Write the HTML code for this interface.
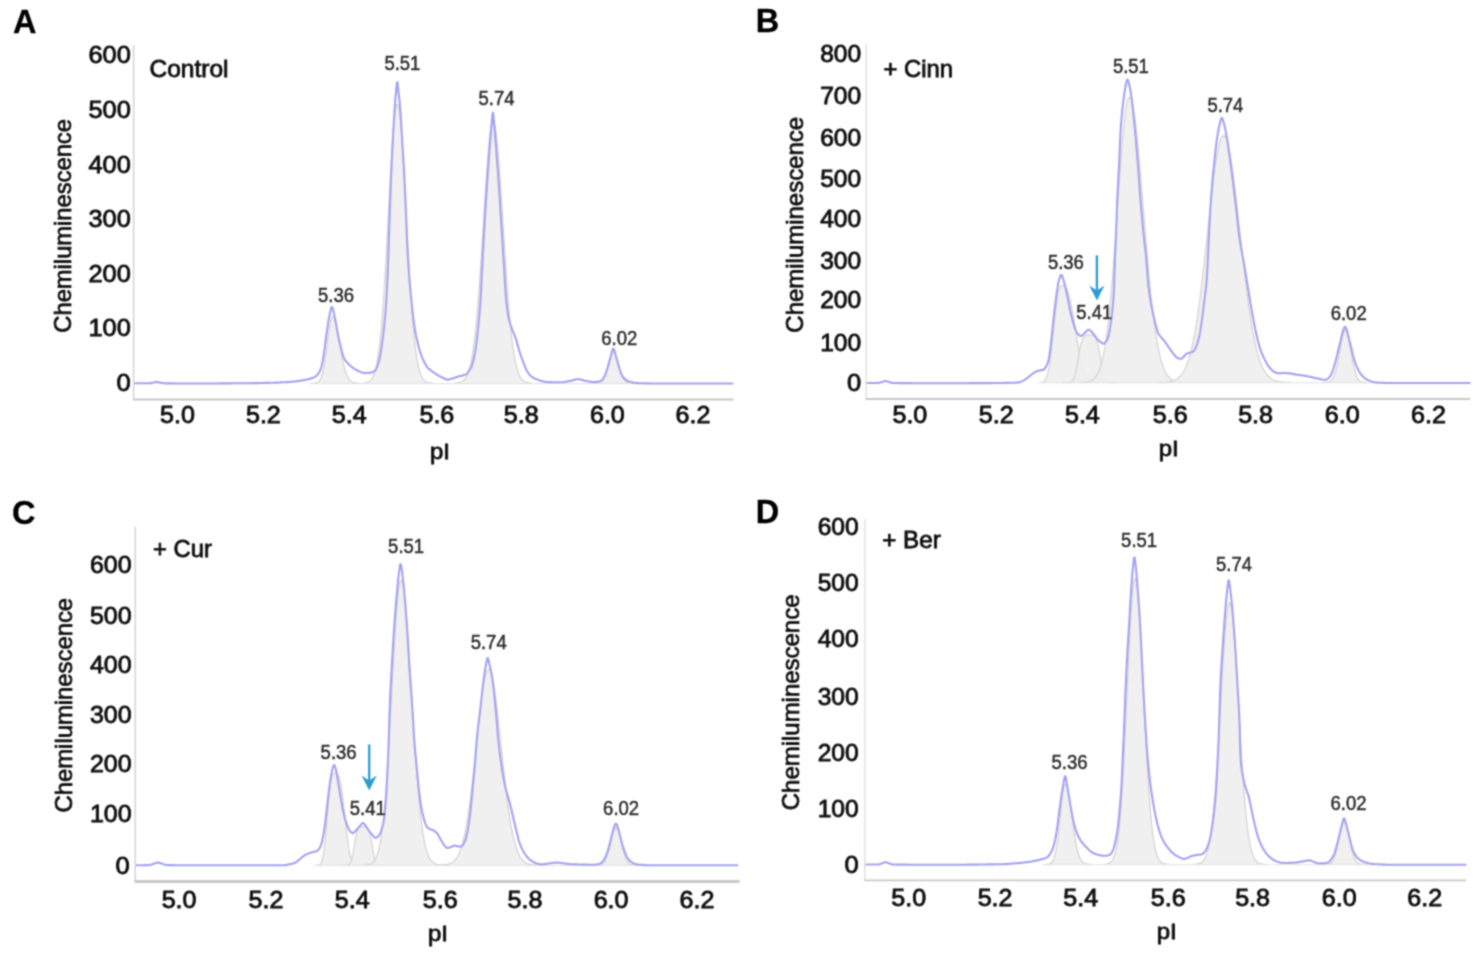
<!DOCTYPE html>
<html lang="en">
<head>
<meta charset="utf-8">
<title>Chemiluminescence pI profiles</title>
<style>
html,body{margin:0;padding:0;background:#fff;}
body{width:1475px;height:960px;overflow:hidden;font-family:"Liberation Sans",sans-serif;}
svg{display:block;}
</style>
</head>
<body>
<svg width="1475" height="960" viewBox="0 0 1475 960" font-family="'Liberation Sans', sans-serif" role="img" aria-label="Chemiluminescence versus pI for Control, Cinn, Cur and Ber">
<defs><filter id="soft" filterUnits="userSpaceOnUse" x="0" y="0" width="1475" height="960"><feConvolveMatrix order="3" kernelMatrix="0.05 0.12 0.05 0.12 0.32 0.12 0.05 0.12 0.05" edgeMode="duplicate"/></filter></defs>
<rect width="1475" height="960" fill="#ffffff"/>
<g filter="url(#soft)">
<g>
<path d="M311.8 383.3 L312.3 383.3 L312.8 383.3 L313.3 383.2 L313.8 383.2 L314.3 383.2 L314.8 383.1 L315.3 383 L315.8 382.9 L316.3 382.8 L316.8 382.6 L317.3 382.4 L317.8 382.1 L318.3 381.8 L318.8 381.3 L319.3 380.8 L319.8 380.1 L320.3 379.2 L320.8 378.2 L321.3 377 L321.8 375.6 L322.3 373.9 L322.8 372 L323.3 369.9 L323.8 367.4 L324.3 364.7 L324.8 361.7 L325.3 358.5 L325.8 355 L326.3 351.4 L326.8 347.6 L327.3 343.7 L327.8 339.9 L328.3 336.1 L328.8 332.4 L329.3 328.9 L329.8 325.8 L330.3 323 L330.8 320.7 L331.3 318.8 L331.8 317.6 L332.3 316.9 L332.8 316.8 L333.3 317.1 L333.8 317.8 L334.3 318.7 L334.8 320 L335.3 321.6 L335.8 323.4 L336.3 325.5 L336.8 327.8 L337.3 330.2 L337.8 332.8 L338.3 335.6 L338.8 338.4 L339.3 341.2 L339.8 344.1 L340.3 347 L340.8 349.8 L341.3 352.6 L341.8 355.3 L342.3 357.8 L342.8 360.3 L343.3 362.6 L343.8 364.8 L344.3 366.8 L344.8 368.7 L345.3 370.5 L345.8 372.1 L346.3 373.5 L346.8 374.8 L347.3 376 L347.8 377 L348.3 377.9 L348.8 378.7 L349.3 379.4 L349.8 380.1 L350.3 380.6 L350.8 381 L351.3 381.4 L351.8 381.8 L352.3 382 L352.8 382.3 L353.3 382.5 L353.8 382.6 L354.3 382.8 L354.8 382.9 L355.3 383 L355.8 383 L356.3 383.1 L356.8 383.1 L357.3 383.2 L357.8 383.2 L358.3 383.2 L358.8 383.2 L359.3 383.3 L359.8 383.3 L360.3 383.3 L360.8 383.3" fill="#efefef" fill-opacity="0.92" stroke="#cfcfcf" stroke-width="1.1"/>
<path d="M361.7 383.2 L362.2 383.2 L362.7 383.2 L363.2 383.1 L363.7 383.1 L364.2 383 L364.7 383 L365.2 382.9 L365.7 382.8 L366.2 382.7 L366.7 382.5 L367.2 382.4 L367.7 382.2 L368.2 382 L368.7 381.7 L369.2 381.4 L369.7 381 L370.2 380.6 L370.7 380.1 L371.2 379.5 L371.7 378.8 L372.2 378.1 L372.7 377.2 L373.2 376.2 L373.7 375 L374.2 373.7 L374.7 372.2 L375.2 370.5 L375.7 368.6 L376.2 366.5 L376.7 364.1 L377.2 361.5 L377.7 358.6 L378.2 355.4 L378.7 351.9 L379.2 348 L379.7 343.8 L380.2 339.2 L380.7 334.3 L381.2 329 L381.7 323.3 L382.2 317.1 L382.7 310.6 L383.2 303.8 L383.7 296.5 L384.2 288.9 L384.7 280.9 L385.2 272.6 L385.7 264 L386.2 255.1 L386.7 246 L387.2 236.8 L387.7 227.4 L388.2 217.9 L388.7 208.4 L389.2 198.9 L389.7 189.5 L390.2 180.3 L390.7 171.4 L391.2 162.7 L391.7 154.4 L392.2 146.5 L392.7 139.2 L393.2 132.4 L393.7 126.2 L394.2 120.7 L394.7 116 L395.2 112 L395.7 108.8 L396.2 106.4 L396.7 104.9 L397.2 104.3 L397.7 104.6 L398.2 105.7 L398.7 107.7 L399.2 110.6 L399.7 114.3 L400.2 118.7 L400.7 123.9 L401.2 129.8 L401.7 136.4 L402.2 143.5 L402.7 151.2 L403.2 159.3 L403.7 167.9 L404.2 176.7 L404.7 185.8 L405.2 195.1 L405.7 204.6 L406.2 214.1 L406.7 223.6 L407.2 233 L407.7 242.3 L408.2 251.5 L408.7 260.5 L409.2 269.2 L409.7 277.6 L410.2 285.7 L410.7 293.5 L411.2 300.9 L411.7 307.9 L412.2 314.6 L412.7 320.9 L413.2 326.7 L413.7 332.2 L414.2 337.3 L414.7 342 L415.2 346.4 L415.7 350.4 L416.2 354 L416.7 357.4 L417.2 360.4 L417.7 363.1 L418.2 365.6 L418.7 367.8 L419.2 369.8 L419.7 371.5 L420.2 373.1 L420.7 374.5 L421.2 375.7 L421.7 376.8 L422.2 377.7 L422.7 378.5 L423.2 379.3 L423.7 379.9 L424.2 380.4 L424.7 380.9 L425.2 381.3 L425.7 381.6 L426.2 381.9 L426.7 382.1 L427.2 382.3 L427.7 382.5 L428.2 382.6 L428.7 382.7 L429.2 382.8 L429.7 382.9 L430.2 383 L430.7 383.1 L431.2 383.1 L431.7 383.1 L432.2 383.2 L432.7 383.2 L433.2 383.2" fill="#efefef" fill-opacity="0.92" stroke="#cfcfcf" stroke-width="1.1"/>
<path d="M453.6 383.2 L454.1 383.2 L454.6 383.2 L455.1 383.1 L455.6 383.1 L456.1 383.1 L456.6 383 L457.1 383 L457.6 382.9 L458.1 382.8 L458.6 382.7 L459.1 382.6 L459.6 382.5 L460.1 382.3 L460.6 382.1 L461.1 381.9 L461.6 381.7 L462.1 381.4 L462.6 381.1 L463.1 380.7 L463.6 380.3 L464.1 379.8 L464.6 379.3 L465.1 378.6 L465.6 377.9 L466.1 377.1 L466.6 376.2 L467.1 375.2 L467.6 374 L468.1 372.8 L468.6 371.3 L469.1 369.8 L469.6 368 L470.1 366.1 L470.6 364 L471.1 361.6 L471.6 359.1 L472.1 356.3 L472.6 353.2 L473.1 349.9 L473.6 346.4 L474.1 342.6 L474.6 338.4 L475.1 334 L475.6 329.3 L476.1 324.4 L476.6 319.1 L477.1 313.5 L477.6 307.6 L478.1 301.4 L478.6 295 L479.1 288.3 L479.6 281.3 L480.1 274.1 L480.6 266.7 L481.1 259.2 L481.6 251.4 L482.1 243.6 L482.6 235.6 L483.1 227.6 L483.6 219.6 L484.1 211.6 L484.6 203.6 L485.1 195.8 L485.6 188.2 L486.1 180.7 L486.6 173.5 L487.1 166.6 L487.6 160 L488.1 153.9 L488.6 148.1 L489.1 142.8 L489.6 138.1 L490.1 133.8 L490.6 130.2 L491.1 127.1 L491.6 124.7 L492.1 122.9 L492.6 121.8 L493.1 121.3 L493.6 121.5 L494.1 122.4 L494.6 123.9 L495.1 126.1 L495.6 128.9 L496.1 132.3 L496.6 136.3 L497.1 140.9 L497.6 145.9 L498.1 151.5 L498.6 157.5 L499.1 163.9 L499.6 170.7 L500.1 177.8 L500.6 185.2 L501.1 192.7 L501.6 200.5 L502.1 208.4 L502.6 216.4 L503.1 224.4 L503.6 232.4 L504.1 240.4 L504.6 248.3 L505.1 256.1 L505.6 263.7 L506.1 271.2 L506.6 278.5 L507.1 285.5 L507.6 292.3 L508.1 298.9 L508.6 305.2 L509.1 311.2 L509.6 316.9 L510.1 322.3 L510.6 327.4 L511.1 332.2 L511.6 336.7 L512.1 340.9 L512.6 344.9 L513.1 348.6 L513.6 351.9 L514.1 355.1 L514.6 358 L515.1 360.6 L515.6 363 L516.1 365.3 L516.6 367.3 L517.1 369.1 L517.6 370.7 L518.1 372.2 L518.6 373.6 L519.1 374.7 L519.6 375.8 L520.1 376.8 L520.6 377.6 L521.1 378.4 L521.6 379 L522.1 379.6 L522.6 380.1 L523.1 380.6 L523.6 381 L524.1 381.3 L524.6 381.6 L525.1 381.8 L525.6 382.1 L526.1 382.3 L526.6 382.4 L527.1 382.6 L527.6 382.7 L528.1 382.8 L528.6 382.9 L529.1 382.9 L529.6 383 L530.1 383 L530.6 383.1 L531.1 383.1 L531.6 383.2 L532.1 383.2 L532.6 383.2 L533.1 383.2" fill="#efefef" fill-opacity="0.92" stroke="#cfcfcf" stroke-width="1.1"/>
<path d="M592.5 383.3 L593 383.3 L593.5 383.3 L594 383.3 L594.5 383.3 L595 383.2 L595.5 383.2 L596 383.2 L596.5 383.1 L597 383.1 L597.5 383 L598 382.9 L598.5 382.8 L599 382.6 L599.5 382.4 L600 382.1 L600.5 381.8 L601 381.4 L601.5 380.9 L602 380.4 L602.5 379.7 L603 378.9 L603.5 378.1 L604 377 L604.5 375.9 L605 374.6 L605.5 373.2 L606 371.7 L606.5 370.1 L607 368.4 L607.5 366.7 L608 364.9 L608.5 363.1 L609 361.3 L609.5 359.6 L610 358 L610.5 356.5 L611 355.2 L611.5 354.1 L612 353.3 L612.5 352.7 L613 352.4 L613.5 352.3 L614 352.6 L614.5 353.1 L615 353.9 L615.5 355 L616 356.2 L616.5 357.6 L617 359.2 L617.5 360.9 L618 362.7 L618.5 364.5 L619 366.3 L619.5 368.1 L620 369.8 L620.5 371.4 L621 372.9 L621.5 374.4 L622 375.7 L622.5 376.8 L623 377.9 L623.5 378.8 L624 379.6 L624.5 380.3 L625 380.8 L625.5 381.3 L626 381.7 L626.5 382.1 L627 382.3 L627.5 382.6 L628 382.7 L628.5 382.9 L629 383 L629.5 383.1 L630 383.1 L630.5 383.2 L631 383.2 L631.5 383.2 L632 383.3 L632.5 383.3 L633 383.3 L633.5 383.3 L634 383.3 L634.5 383.3" fill="#efefef" fill-opacity="0.92" stroke="#cfcfcf" stroke-width="1.1"/>
<line x1="308.8" y1="383.6" x2="637.5" y2="383.6" stroke="#e2e2e2" stroke-width="1"/>
<path d="M134.4 383.3 L134.9 383.3 L135.4 383.3 L135.9 383.3 L136.4 383.3 L136.9 383.3 L137.4 383.3 L137.9 383.3 L138.4 383.3 L138.9 383.3 L139.4 383.3 L139.9 383.3 L140.4 383.3 L140.9 383.3 L141.4 383.3 L141.9 383.3 L142.4 383.3 L142.9 383.3 L143.4 383.3 L143.9 383.3 L144.4 383.3 L144.9 383.3 L145.4 383.3 L145.9 383.3 L146.4 383.3 L146.9 383.3 L147.4 383.3 L147.9 383.3 L148.4 383.3 L148.9 383.3 L149.4 383.3 L149.9 383.3 L150.4 383.2 L150.9 383.1 L151.4 383 L151.9 382.9 L152.4 382.8 L152.9 382.7 L153.4 382.7 L153.9 382.5 L154.4 382.4 L154.9 382.3 L155.4 382.2 L155.9 382.1 L156.4 382.1 L156.9 382.1 L157.4 382.1 L157.9 382.2 L158.4 382.3 L158.9 382.4 L159.4 382.5 L159.9 382.6 L160.4 382.7 L160.9 382.8 L161.4 382.9 L161.9 383 L162.4 383.1 L162.9 383.2 L163.4 383.2 L163.9 383.3 L164.4 383.3 L164.9 383.3 L165.4 383.3 L165.9 383.4 L166.4 383.4 L166.9 383.4 L167.4 383.4 L167.9 383.4 L168.4 383.4 L168.9 383.4 L169.4 383.4 L169.9 383.4 L170.4 383.4 L170.9 383.4 L171.4 383.4 L171.9 383.4 L172.4 383.4 L172.9 383.4 L173.4 383.4 L173.9 383.4 L174.4 383.4 L174.9 383.5 L175.4 383.5 L175.9 383.5 L176.4 383.5 L176.9 383.5 L177.4 383.5 L177.9 383.5 L178.4 383.5 L178.9 383.5 L179.4 383.5 L179.9 383.5 L180.4 383.5 L180.9 383.5 L181.4 383.5 L181.9 383.5 L182.4 383.5 L182.9 383.5 L183.4 383.5 L183.9 383.5 L184.4 383.5 L184.9 383.5 L185.4 383.5 L185.9 383.5 L186.4 383.5 L186.9 383.5 L187.4 383.5 L187.9 383.5 L188.4 383.5 L188.9 383.5 L189.4 383.5 L189.9 383.5 L190.4 383.5 L190.9 383.5 L191.4 383.5 L191.9 383.5 L192.4 383.5 L192.9 383.5 L193.4 383.5 L193.9 383.5 L194.4 383.5 L194.9 383.5 L195.4 383.5 L195.9 383.5 L196.4 383.5 L196.9 383.5 L197.4 383.5 L197.9 383.5 L198.4 383.5 L198.9 383.5 L199.4 383.5 L199.9 383.5 L200.4 383.5 L200.9 383.5 L201.4 383.5 L201.9 383.5 L202.4 383.5 L202.9 383.5 L203.4 383.5 L203.9 383.5 L204.4 383.5 L204.9 383.5 L205.4 383.5 L205.9 383.5 L206.4 383.5 L206.9 383.5 L207.4 383.5 L207.9 383.5 L208.4 383.5 L208.9 383.5 L209.4 383.5 L209.9 383.5 L210.4 383.5 L210.9 383.5 L211.4 383.5 L211.9 383.5 L212.4 383.5 L212.9 383.5 L213.4 383.5 L213.9 383.5 L214.4 383.5 L214.9 383.5 L215.4 383.5 L215.9 383.5 L216.4 383.5 L216.9 383.5 L217.4 383.5 L217.9 383.5 L218.4 383.5 L218.9 383.5 L219.4 383.5 L219.9 383.4 L220.4 383.4 L220.9 383.4 L221.4 383.4 L221.9 383.4 L222.4 383.4 L222.9 383.4 L223.4 383.4 L223.9 383.4 L224.4 383.4 L224.9 383.4 L225.4 383.4 L225.9 383.4 L226.4 383.4 L226.9 383.4 L227.4 383.4 L227.9 383.4 L228.4 383.4 L228.9 383.4 L229.4 383.4 L229.9 383.4 L230.4 383.4 L230.9 383.4 L231.4 383.3 L231.9 383.3 L232.4 383.3 L232.9 383.3 L233.4 383.3 L233.9 383.3 L234.4 383.3 L234.9 383.3 L235.4 383.3 L235.9 383.3 L236.4 383.3 L236.9 383.3 L237.4 383.3 L237.9 383.3 L238.4 383.3 L238.9 383.3 L239.4 383.3 L239.9 383.3 L240.4 383.3 L240.9 383.3 L241.4 383.3 L241.9 383.2 L242.4 383.2 L242.9 383.2 L243.4 383.2 L243.9 383.2 L244.4 383.2 L244.9 383.2 L245.4 383.2 L245.9 383.2 L246.4 383.2 L246.9 383.2 L247.4 383.2 L247.9 383.2 L248.4 383.2 L248.9 383.2 L249.4 383.2 L249.9 383.2 L250.4 383.2 L250.9 383.1 L251.4 383.1 L251.9 383.1 L252.4 383.1 L252.9 383.1 L253.4 383.1 L253.9 383.1 L254.4 383.1 L254.9 383.1 L255.4 383.1 L255.9 383.1 L256.4 383.1 L256.9 383.1 L257.4 383.1 L257.9 383.1 L258.4 383 L258.9 383 L259.4 383 L259.9 383 L260.4 383 L260.9 383 L261.4 383 L261.9 383 L262.4 383 L262.9 383 L263.4 383 L263.9 382.9 L264.4 382.9 L264.9 382.9 L265.4 382.9 L265.9 382.9 L266.4 382.9 L266.9 382.9 L267.4 382.9 L267.9 382.9 L268.4 382.9 L268.9 382.8 L269.4 382.8 L269.9 382.8 L270.4 382.8 L270.9 382.8 L271.4 382.8 L271.9 382.8 L272.4 382.7 L272.9 382.7 L273.4 382.7 L273.9 382.7 L274.4 382.7 L274.9 382.7 L275.4 382.7 L275.9 382.6 L276.4 382.6 L276.9 382.6 L277.4 382.6 L277.9 382.6 L278.4 382.5 L278.9 382.5 L279.4 382.5 L279.9 382.5 L280.4 382.5 L280.9 382.4 L281.4 382.4 L281.9 382.4 L282.4 382.4 L282.9 382.3 L283.4 382.3 L283.9 382.3 L284.4 382.3 L284.9 382.2 L285.4 382.2 L285.9 382.2 L286.4 382.1 L286.9 382.1 L287.4 382.1 L287.9 382.1 L288.4 382 L288.9 382 L289.4 382 L289.9 381.9 L290.4 381.9 L290.9 381.9 L291.4 381.8 L291.9 381.8 L292.4 381.7 L292.9 381.7 L293.4 381.6 L293.9 381.6 L294.4 381.5 L294.9 381.5 L295.4 381.4 L295.9 381.3 L296.4 381.3 L296.9 381.2 L297.4 381.1 L297.9 381.1 L298.4 381 L298.9 380.9 L299.4 380.9 L299.9 380.8 L300.4 380.7 L300.9 380.6 L301.4 380.5 L301.9 380.5 L302.4 380.4 L302.9 380.3 L303.4 380.2 L303.9 380.1 L304.4 380 L304.9 379.9 L305.4 379.8 L305.9 379.7 L306.4 379.6 L306.9 379.5 L307.4 379.4 L307.9 379.3 L308.4 379.2 L308.9 379.1 L309.4 379 L309.9 378.8 L310.4 378.7 L310.9 378.5 L311.4 378.4 L311.9 378.2 L312.4 378 L312.9 377.9 L313.4 377.6 L313.9 377.4 L314.4 377.2 L314.9 376.9 L315.4 376.5 L315.9 376.1 L316.4 375.7 L316.9 375.2 L317.4 374.7 L317.9 374.1 L318.4 373.5 L318.9 372.8 L319.4 371.9 L319.9 370.9 L320.4 369.8 L320.9 368.5 L321.4 367 L321.9 365.1 L322.4 362.6 L322.9 359.8 L323.4 356.8 L323.9 353.6 L324.4 350.3 L324.9 346.5 L325.4 342.5 L325.9 338.6 L326.4 334.9 L326.9 331.4 L327.4 327.8 L327.9 324.4 L328.4 321.3 L328.9 318.5 L329.4 316 L329.9 313.4 L330.4 310.9 L330.9 308.9 L331.4 307.4 L331.9 306.9 L332.4 307.4 L332.9 308.9 L333.4 310.9 L333.9 313.3 L334.4 315.6 L334.9 317.9 L335.4 320.5 L335.9 323.4 L336.4 326.4 L336.9 329.3 L337.4 332 L337.9 334.5 L338.4 336.8 L338.9 339.2 L339.4 341.4 L339.9 343.5 L340.4 345.6 L340.9 347.6 L341.4 349.7 L341.9 351.7 L342.4 353.5 L342.9 355.2 L343.4 356.7 L343.9 357.8 L344.4 358.7 L344.9 359.6 L345.4 360.4 L345.9 361 L346.4 361.7 L346.9 362.3 L347.4 362.8 L347.9 363.4 L348.4 363.9 L348.9 364.4 L349.4 364.9 L349.9 365.4 L350.4 365.8 L350.9 366.3 L351.4 366.7 L351.9 367.1 L352.4 367.4 L352.9 367.8 L353.4 368.1 L353.9 368.5 L354.4 368.8 L354.9 369.1 L355.4 369.5 L355.9 369.7 L356.4 370 L356.9 370.3 L357.4 370.5 L357.9 370.8 L358.4 371 L358.9 371.2 L359.4 371.4 L359.9 371.6 L360.4 371.8 L360.9 372 L361.4 372.2 L361.9 372.4 L362.4 372.6 L362.9 372.7 L363.4 372.8 L363.9 372.9 L364.4 373 L364.9 373 L365.4 373 L365.9 373 L366.4 373 L366.9 373 L367.4 372.9 L367.9 372.9 L368.4 372.9 L368.9 372.8 L369.4 372.8 L369.9 372.7 L370.4 372.7 L370.9 372.6 L371.4 372.5 L371.9 372.4 L372.4 372.2 L372.9 372 L373.4 371.7 L373.9 371.4 L374.4 371.1 L374.9 370.7 L375.4 370.2 L375.9 369.5 L376.4 368.5 L376.9 367.4 L377.4 366.2 L377.9 364.9 L378.4 363.3 L378.9 361.4 L379.4 359.3 L379.9 357 L380.4 354.5 L380.9 351.7 L381.4 348.4 L381.9 344.9 L382.4 341.1 L382.9 337.2 L383.4 333 L383.9 328.6 L384.4 323.8 L384.9 318.6 L385.4 313 L385.9 306.8 L386.4 299.4 L386.9 290.2 L387.4 279.6 L387.9 267.8 L388.4 254.7 L388.9 240 L389.4 224.2 L389.9 208.8 L390.4 194.5 L390.9 181.2 L391.4 169.4 L391.9 158.6 L392.4 148.5 L392.9 139 L393.4 129.8 L393.9 121 L394.4 112.8 L394.9 105.4 L395.4 98.9 L395.9 93.1 L396.4 87.9 L396.9 82.7 L397.4 82 L397.9 86.1 L398.4 90.9 L398.9 95.2 L399.4 100 L399.9 105.4 L400.4 111.9 L400.9 119.5 L401.4 127.6 L401.9 136 L402.4 144.1 L402.9 152.1 L403.4 160.3 L403.9 168.9 L404.4 178.2 L404.9 188.7 L405.4 199.9 L405.9 211.7 L406.4 224.8 L406.9 237.8 L407.4 248.2 L407.9 257.4 L408.4 265.4 L408.9 272.5 L409.4 279 L409.9 285 L410.4 290.7 L410.9 295.9 L411.4 300.9 L411.9 305.7 L412.4 310.3 L412.9 314.6 L413.4 318.8 L413.9 322.7 L414.4 326.2 L414.9 329.4 L415.4 332.3 L415.9 334.9 L416.4 337.2 L416.9 339.5 L417.4 341.6 L417.9 343.6 L418.4 345.6 L418.9 347.5 L419.4 349.3 L419.9 351.1 L420.4 352.7 L420.9 354.2 L421.4 355.6 L421.9 356.9 L422.4 358.1 L422.9 359.2 L423.4 360.3 L423.9 361.3 L424.4 362.3 L424.9 363.3 L425.4 364.2 L425.9 365.1 L426.4 366 L426.9 366.7 L427.4 367.4 L427.9 367.9 L428.4 368.4 L428.9 368.9 L429.4 369.3 L429.9 369.7 L430.4 370.1 L430.9 370.5 L431.4 370.8 L431.9 371.2 L432.4 371.6 L432.9 371.9 L433.4 372.3 L433.9 372.6 L434.4 373 L434.9 373.3 L435.4 373.7 L435.9 374 L436.4 374.3 L436.9 374.6 L437.4 374.9 L437.9 375.2 L438.4 375.5 L438.9 375.8 L439.4 376.1 L439.9 376.3 L440.4 376.6 L440.9 376.8 L441.4 377.1 L441.9 377.3 L442.4 377.5 L442.9 377.8 L443.4 378 L443.9 378.2 L444.4 378.5 L444.9 378.8 L445.4 379 L445.9 379.2 L446.4 379.4 L446.9 379.5 L447.4 379.6 L447.9 379.6 L448.4 379.6 L448.9 379.5 L449.4 379.4 L449.9 379.2 L450.4 379.1 L450.9 378.9 L451.4 378.8 L451.9 378.6 L452.4 378.5 L452.9 378.3 L453.4 378.2 L453.9 378 L454.4 377.8 L454.9 377.7 L455.4 377.5 L455.9 377.3 L456.4 377.1 L456.9 377 L457.4 376.8 L457.9 376.6 L458.4 376.5 L458.9 376.4 L459.4 376.2 L459.9 376.1 L460.4 376 L460.9 375.9 L461.4 375.8 L461.9 375.7 L462.4 375.6 L462.9 375.4 L463.4 375.3 L463.9 375.1 L464.4 375 L464.9 374.8 L465.4 374.6 L465.9 374.4 L466.4 374.1 L466.9 373.7 L467.4 373 L467.9 372.3 L468.4 371.6 L468.9 370.9 L469.4 370.2 L469.9 369.5 L470.4 368.7 L470.9 367.8 L471.4 366.8 L471.9 365.7 L472.4 364.2 L472.9 362.5 L473.4 360.5 L473.9 358.3 L474.4 356 L474.9 353.5 L475.4 350.6 L475.9 347.3 L476.4 343.6 L476.9 339.6 L477.4 335.4 L477.9 330.6 L478.4 325.3 L478.9 319.7 L479.4 314.3 L479.9 308.7 L480.4 302.3 L480.9 294.2 L481.4 284.1 L481.9 273.4 L482.4 263.5 L482.9 254.3 L483.4 245.4 L483.9 236.4 L484.4 227.4 L484.9 218.5 L485.4 210.1 L485.9 202 L486.4 194.2 L486.9 186.6 L487.4 179.2 L487.9 172 L488.4 164.9 L488.9 158 L489.4 151.2 L489.9 144.7 L490.4 138.4 L490.9 132.2 L491.4 126.3 L491.9 121 L492.4 115.5 L492.9 112.5 L493.4 115.5 L493.9 121 L494.4 126.6 L494.9 133 L495.4 139.6 L495.9 146 L496.4 152.3 L496.9 158.8 L497.4 165.3 L497.9 172.1 L498.4 179.2 L498.9 186.6 L499.4 194.4 L499.9 202.3 L500.4 210.1 L500.9 217.9 L501.4 225.8 L501.9 233.7 L502.4 241.6 L502.9 249.5 L503.4 257.5 L503.9 265.4 L504.4 273.7 L504.9 282.4 L505.4 290.6 L505.9 297.6 L506.4 302.8 L506.9 307 L507.4 310.7 L507.9 313.9 L508.4 316.7 L508.9 319 L509.4 321.1 L509.9 322.9 L510.4 324.5 L510.9 325.9 L511.4 327.3 L511.9 328.7 L512.4 330.1 L512.9 331.3 L513.4 332.4 L513.9 333.6 L514.4 334.7 L514.9 336 L515.4 337.5 L515.9 339 L516.4 340.6 L516.9 342.4 L517.4 344.1 L517.9 345.9 L518.4 347.7 L518.9 349.5 L519.4 351.2 L519.9 352.8 L520.4 354.3 L520.9 355.8 L521.4 357.2 L521.9 358.6 L522.4 359.9 L522.9 361.2 L523.4 362.5 L523.9 363.8 L524.4 365 L524.9 366.2 L525.4 367.5 L525.9 368.7 L526.4 369.8 L526.9 370.8 L527.4 371.7 L527.9 372.5 L528.4 373.2 L528.9 373.9 L529.4 374.6 L529.9 375.2 L530.4 375.7 L530.9 376.1 L531.4 376.5 L531.9 376.8 L532.4 377.2 L532.9 377.5 L533.4 377.8 L533.9 378.1 L534.4 378.3 L534.9 378.6 L535.4 378.8 L535.9 379 L536.4 379.2 L536.9 379.4 L537.4 379.6 L537.9 379.8 L538.4 380 L538.9 380.1 L539.4 380.3 L539.9 380.5 L540.4 380.6 L540.9 380.8 L541.4 381 L541.9 381.1 L542.4 381.3 L542.9 381.4 L543.4 381.5 L543.9 381.6 L544.4 381.7 L544.9 381.8 L545.4 381.9 L545.9 381.9 L546.4 381.9 L546.9 382 L547.4 382 L547.9 382 L548.4 382 L548.9 382.1 L549.4 382.1 L549.9 382.1 L550.4 382.1 L550.9 382.2 L551.4 382.2 L551.9 382.2 L552.4 382.2 L552.9 382.2 L553.4 382.2 L553.9 382.2 L554.4 382.3 L554.9 382.3 L555.4 382.3 L555.9 382.3 L556.4 382.3 L556.9 382.3 L557.4 382.3 L557.9 382.3 L558.4 382.3 L558.9 382.3 L559.4 382.3 L559.9 382.3 L560.4 382.3 L560.9 382.3 L561.4 382.3 L561.9 382.2 L562.4 382.2 L562.9 382.2 L563.4 382.1 L563.9 382 L564.4 382 L564.9 381.9 L565.4 381.8 L565.9 381.7 L566.4 381.6 L566.9 381.5 L567.4 381.4 L567.9 381.4 L568.4 381.3 L568.9 381.2 L569.4 381.1 L569.9 381 L570.4 380.9 L570.9 380.8 L571.4 380.7 L571.9 380.5 L572.4 380.4 L572.9 380.3 L573.4 380.1 L573.9 380 L574.4 379.8 L574.9 379.7 L575.4 379.6 L575.9 379.5 L576.4 379.4 L576.9 379.3 L577.4 379.2 L577.9 379.2 L578.4 379.2 L578.9 379.2 L579.4 379.3 L579.9 379.4 L580.4 379.5 L580.9 379.6 L581.4 379.7 L581.9 379.9 L582.4 380 L582.9 380.2 L583.4 380.3 L583.9 380.5 L584.4 380.6 L584.9 380.7 L585.4 380.9 L585.9 381 L586.4 381 L586.9 381.1 L587.4 381.2 L587.9 381.3 L588.4 381.4 L588.9 381.5 L589.4 381.6 L589.9 381.7 L590.4 381.7 L590.9 381.8 L591.4 381.9 L591.9 381.9 L592.4 382 L592.9 382 L593.4 382 L593.9 382.1 L594.4 382.1 L594.9 382 L595.4 382 L595.9 382 L596.4 381.9 L596.9 381.9 L597.4 381.8 L597.9 381.7 L598.4 381.6 L598.9 381.5 L599.4 381.4 L599.9 381.3 L600.4 381.2 L600.9 381 L601.4 380.8 L601.9 380.4 L602.4 379.8 L602.9 379.2 L603.4 378.4 L603.9 377.6 L604.4 376.7 L604.9 375.7 L605.4 374.5 L605.9 373.1 L606.4 371.5 L606.9 369.9 L607.4 368.3 L607.9 366.7 L608.4 365 L608.9 363.2 L609.4 361.4 L609.9 359.6 L610.4 357.8 L610.9 356 L611.4 354 L611.9 351.9 L612.4 350.1 L612.9 348.9 L613.4 348.6 L613.9 349.2 L614.4 350.5 L614.9 352.2 L615.4 354.2 L615.9 356.1 L616.4 357.8 L616.9 359.5 L617.4 361.3 L617.9 363.2 L618.4 365 L618.9 366.7 L619.4 368.3 L619.9 369.8 L620.4 371.4 L620.9 372.8 L621.4 374.2 L621.9 375.3 L622.4 376.2 L622.9 376.9 L623.4 377.5 L623.9 378.1 L624.4 378.6 L624.9 379.1 L625.4 379.5 L625.9 379.8 L626.4 380.1 L626.9 380.4 L627.4 380.7 L627.9 381 L628.4 381.2 L628.9 381.4 L629.4 381.6 L629.9 381.8 L630.4 381.9 L630.9 382 L631.4 382.1 L631.9 382.3 L632.4 382.4 L632.9 382.5 L633.4 382.6 L633.9 382.7 L634.4 382.7 L634.9 382.8 L635.4 382.9 L635.9 383 L636.4 383 L636.9 383.1 L637.4 383.1 L637.9 383.1 L638.4 383.1 L638.9 383.2 L639.4 383.2 L639.9 383.2 L640.4 383.2 L640.9 383.2 L641.4 383.2 L641.9 383.3 L642.4 383.3 L642.9 383.3 L643.4 383.3 L643.9 383.3 L644.4 383.3 L644.9 383.3 L645.4 383.4 L645.9 383.4 L646.4 383.4 L646.9 383.4 L647.4 383.4 L647.9 383.4 L648.4 383.4 L648.9 383.4 L649.4 383.4 L649.9 383.5 L650.4 383.5 L650.9 383.5 L651.4 383.5 L651.9 383.5 L652.4 383.5 L652.9 383.5 L653.4 383.5 L653.9 383.5 L654.4 383.5 L654.9 383.5 L655.4 383.5 L655.9 383.5 L656.4 383.5 L656.9 383.5 L657.4 383.5 L657.9 383.5 L658.4 383.5 L658.9 383.5 L659.4 383.5 L659.9 383.5 L660.4 383.5 L660.9 383.5 L661.4 383.5 L661.9 383.5 L662.4 383.5 L662.9 383.5 L663.4 383.5 L663.9 383.5 L664.4 383.5 L664.9 383.5 L665.4 383.5 L665.9 383.5 L666.4 383.5 L666.9 383.5 L667.4 383.5 L667.9 383.5 L668.4 383.5 L668.9 383.5 L669.4 383.5 L669.9 383.5 L670.4 383.5 L670.9 383.5 L671.4 383.5 L671.9 383.5 L672.4 383.5 L672.9 383.5 L673.4 383.5 L673.9 383.5 L674.4 383.5 L674.9 383.5 L675.4 383.5 L675.9 383.5 L676.4 383.5 L676.9 383.5 L677.4 383.5 L677.9 383.5 L678.4 383.5 L678.9 383.5 L679.4 383.5 L679.9 383.5 L680.4 383.5 L680.9 383.5 L681.4 383.5 L681.9 383.5 L682.4 383.5 L682.9 383.5 L683.4 383.5 L683.9 383.5 L684.4 383.5 L684.9 383.5 L685.4 383.5 L685.9 383.5 L686.4 383.5 L686.9 383.5 L687.4 383.5 L687.9 383.5 L688.4 383.5 L688.9 383.5 L689.4 383.5 L689.9 383.5 L690.4 383.5 L690.9 383.5 L691.4 383.5 L691.9 383.5 L692.4 383.5 L692.9 383.5 L693.4 383.5 L693.9 383.5 L694.4 383.5 L694.9 383.5 L695.4 383.5 L695.9 383.5 L696.4 383.5 L696.9 383.5 L697.4 383.5 L697.9 383.5 L698.4 383.5 L698.9 383.5 L699.4 383.5 L699.9 383.5 L700.4 383.5 L700.9 383.5 L701.4 383.5 L701.9 383.5 L702.4 383.5 L702.9 383.5 L703.4 383.5 L703.9 383.5 L704.4 383.5 L704.9 383.5 L705.4 383.5 L705.9 383.5 L706.4 383.5 L706.9 383.5 L707.4 383.5 L707.9 383.5 L708.4 383.5 L708.9 383.5 L709.4 383.5 L709.9 383.5 L710.4 383.5 L710.9 383.5 L711.4 383.5 L711.9 383.5 L712.4 383.5 L712.9 383.5 L713.4 383.5 L713.9 383.5 L714.4 383.5 L714.9 383.5 L715.4 383.5 L715.9 383.5 L716.4 383.5 L716.9 383.5 L717.4 383.5 L717.9 383.5 L718.4 383.5 L718.9 383.5 L719.4 383.5 L719.9 383.5 L720.4 383.5 L720.9 383.5 L721.4 383.5 L721.9 383.5 L722.4 383.5 L722.9 383.5 L723.4 383.5 L723.9 383.5 L724.4 383.5 L724.9 383.5 L725.4 383.5 L725.9 383.5 L726.4 383.5 L726.9 383.5 L727.4 383.5 L727.9 383.5 L728.4 383.5 L728.9 383.5 L729.4 383.5 L729.9 383.5 L730.4 383.5 L730.9 383.5 L731.4 383.5 L731.9 383.5 L732.4 383.5" fill="none" stroke="#a3a3f2" stroke-width="2.1" stroke-linejoin="round" stroke-linecap="round"/>
<line x1="133.6" y1="45" x2="133.6" y2="399.5" stroke="#d4d4d4" stroke-width="1.5"/>
<line x1="132.9" y1="399.5" x2="733.4" y2="399.5" stroke="#c8c8c8" stroke-width="2.2"/>
<text x="130.8" y="391" font-size="23.2" fill="#0c0c0c" stroke="#0c0c0c" stroke-width="0.8" text-anchor="end" textLength="14.2" lengthAdjust="spacingAndGlyphs">0</text>
<text x="130.8" y="336.4" font-size="23.2" fill="#0c0c0c" stroke="#0c0c0c" stroke-width="0.8" text-anchor="end" textLength="42.3" lengthAdjust="spacingAndGlyphs">100</text>
<text x="130.8" y="281.8" font-size="23.2" fill="#0c0c0c" stroke="#0c0c0c" stroke-width="0.8" text-anchor="end" textLength="42.3" lengthAdjust="spacingAndGlyphs">200</text>
<text x="130.8" y="227.2" font-size="23.2" fill="#0c0c0c" stroke="#0c0c0c" stroke-width="0.8" text-anchor="end" textLength="42.3" lengthAdjust="spacingAndGlyphs">300</text>
<text x="130.8" y="172.6" font-size="23.2" fill="#0c0c0c" stroke="#0c0c0c" stroke-width="0.8" text-anchor="end" textLength="42.3" lengthAdjust="spacingAndGlyphs">400</text>
<text x="130.8" y="117.9" font-size="23.2" fill="#0c0c0c" stroke="#0c0c0c" stroke-width="0.8" text-anchor="end" textLength="42.3" lengthAdjust="spacingAndGlyphs">500</text>
<text x="130.8" y="63.3" font-size="23.2" fill="#0c0c0c" stroke="#0c0c0c" stroke-width="0.8" text-anchor="end" textLength="42.3" lengthAdjust="spacingAndGlyphs">600</text>
<text x="177.5" y="423" font-size="23" fill="#0c0c0c" stroke="#0c0c0c" stroke-width="0.8" text-anchor="middle" textLength="34.9" lengthAdjust="spacingAndGlyphs">5.0</text>
<text x="263.4" y="423" font-size="23" fill="#0c0c0c" stroke="#0c0c0c" stroke-width="0.8" text-anchor="middle" textLength="34.9" lengthAdjust="spacingAndGlyphs">5.2</text>
<text x="349.3" y="423" font-size="23" fill="#0c0c0c" stroke="#0c0c0c" stroke-width="0.8" text-anchor="middle" textLength="34.9" lengthAdjust="spacingAndGlyphs">5.4</text>
<text x="436.9" y="423" font-size="23" fill="#0c0c0c" stroke="#0c0c0c" stroke-width="0.8" text-anchor="middle" textLength="34.9" lengthAdjust="spacingAndGlyphs">5.6</text>
<text x="521.2" y="423" font-size="23" fill="#0c0c0c" stroke="#0c0c0c" stroke-width="0.8" text-anchor="middle" textLength="34.9" lengthAdjust="spacingAndGlyphs">5.8</text>
<text x="607.4" y="423" font-size="23" fill="#0c0c0c" stroke="#0c0c0c" stroke-width="0.8" text-anchor="middle" textLength="34.9" lengthAdjust="spacingAndGlyphs">6.0</text>
<text x="693" y="423" font-size="23" fill="#0c0c0c" stroke="#0c0c0c" stroke-width="0.8" text-anchor="middle" textLength="34.9" lengthAdjust="spacingAndGlyphs">6.2</text>
<text x="430" y="458.7" font-size="22.9" fill="#0c0c0c" stroke="#0c0c0c" stroke-width="0.8" textLength="20" lengthAdjust="spacingAndGlyphs">pI</text>
<text transform="translate(71 225.9) rotate(-90) scale(1 1.03)" font-size="23.6" fill="#0c0c0c" stroke="#0c0c0c" stroke-width="0.7" text-anchor="middle" textLength="213.6" lengthAdjust="spacingAndGlyphs">Chemiluminescence</text>
<text x="13.1" y="33.1" font-size="32.5" fill="#000" stroke="#000" stroke-width="0.3" font-weight="bold">A</text>
<text x="149.5" y="77.3" font-size="23.6" fill="#0c0c0c" stroke="#0c0c0c" stroke-width="0.8" textLength="79" lengthAdjust="spacingAndGlyphs">Control</text>
<text x="384.4" y="69.6" font-size="19.4" fill="#303030" stroke="#303030" stroke-width="0.5" textLength="36" lengthAdjust="spacingAndGlyphs">5.51</text>
<text x="478.5" y="104.8" font-size="19.4" fill="#303030" stroke="#303030" stroke-width="0.5" textLength="36" lengthAdjust="spacingAndGlyphs">5.74</text>
<text x="318" y="302" font-size="19.4" fill="#303030" stroke="#303030" stroke-width="0.5" textLength="36" lengthAdjust="spacingAndGlyphs">5.36</text>
<text x="601.3" y="344.7" font-size="19.4" fill="#303030" stroke="#303030" stroke-width="0.5" textLength="36" lengthAdjust="spacingAndGlyphs">6.02</text>
</g>
<g>
<path d="M1041.5 382.3 L1042 382.2 L1042.5 382 L1043 381.8 L1043.5 381.5 L1044 381.2 L1044.5 380.7 L1045 380.1 L1045.5 379.4 L1046 378.5 L1046.5 377.3 L1047 376 L1047.5 374.3 L1048 372.4 L1048.5 370.2 L1049 367.6 L1049.5 364.7 L1050 361.5 L1050.5 357.9 L1051 354.1 L1051.5 349.9 L1052 345.5 L1052.5 340.9 L1053 336.2 L1053.5 331.4 L1054 326.5 L1054.5 321.8 L1055 317.1 L1055.5 312.6 L1056 308.4 L1056.5 304.4 L1057 300.8 L1057.5 297.5 L1058 294.7 L1058.5 292.3 L1059 290.2 L1059.5 288.6 L1060 287.4 L1060.5 286.5 L1061 285.9 L1061.5 285.6 L1062 285.5 L1062.5 285.5 L1063 285.5 L1063.5 285.6 L1064 285.8 L1064.5 286.1 L1065 286.5 L1065.5 287 L1066 287.7 L1066.5 288.5 L1067 289.5 L1067.5 290.6 L1068 292 L1068.5 293.5 L1069 295.2 L1069.5 297.1 L1070 299.1 L1070.5 301.3 L1071 303.7 L1071.5 306.2 L1072 308.9 L1072.5 311.6 L1073 314.5 L1073.5 317.5 L1074 320.6 L1074.5 323.7 L1075 326.8 L1075.5 330 L1076 333.2 L1076.5 336.3 L1077 339.4 L1077.5 342.5 L1078 345.5 L1078.5 348.4 L1079 351.2 L1079.5 353.9 L1080 356.5 L1080.5 358.9 L1081 361.2 L1081.5 363.4 L1082 365.4 L1082.5 367.3 L1083 369.1 L1083.5 370.7 L1084 372.1 L1084.5 373.4 L1085 374.6 L1085.5 375.7 L1086 376.7 L1086.5 377.5 L1087 378.3 L1087.5 378.9 L1088 379.5 L1088.5 380 L1089 380.4 L1089.5 380.8 L1090 381.1 L1090.5 381.3 L1091 381.5 L1091.5 381.7 L1092 381.9 L1092.5 382 L1093 382.1 L1093.5 382.2 L1094 382.3 L1094.5 382.3" fill="#efefef" fill-opacity="0.92" stroke="#cfcfcf" stroke-width="1.1"/>
<path d="M1062.6 382.5 L1063.1 382.5 L1063.6 382.5 L1064.1 382.5 L1064.6 382.5 L1065.1 382.5 L1065.6 382.5 L1066.1 382.5 L1066.6 382.5 L1067.1 382.5 L1067.6 382.5 L1068.1 382.5 L1068.6 382.5 L1069.1 382.5 L1069.6 382.4 L1070.1 382.4 L1070.6 382.3 L1071.1 382.2 L1071.6 381.9 L1072.1 381.6 L1072.6 381.1 L1073.1 380.4 L1073.6 379.5 L1074.1 378.3 L1074.6 376.8 L1075.1 375 L1075.6 372.9 L1076.1 370.6 L1076.6 368 L1077.1 365.2 L1077.6 362.3 L1078.1 359.4 L1078.6 356.4 L1079.1 353.6 L1079.6 350.9 L1080.1 348.3 L1080.6 346 L1081.1 344 L1081.6 342.1 L1082.1 340.6 L1082.6 339.3 L1083.1 338.2 L1083.6 337.3 L1084.1 336.6 L1084.6 336.1 L1085.1 335.7 L1085.6 335.4 L1086.1 335.2 L1086.6 335.1 L1087.1 335.1 L1087.6 335 L1088.1 335 L1088.6 335 L1089.1 335 L1089.6 335 L1090.1 335 L1090.6 335 L1091.1 335 L1091.6 335.1 L1092.1 335.1 L1092.6 335.2 L1093.1 335.4 L1093.6 335.7 L1094.1 336 L1094.6 336.5 L1095.1 337.2 L1095.6 338.1 L1096.1 339.1 L1096.6 340.4 L1097.1 341.9 L1097.6 343.7 L1098.1 345.8 L1098.6 348 L1099.1 350.5 L1099.6 353.2 L1100.1 356.1 L1100.6 359 L1101.1 362 L1101.6 364.9 L1102.1 367.7 L1102.6 370.3 L1103.1 372.7 L1103.6 374.8 L1104.1 376.6 L1104.6 378.1 L1105.1 379.3 L1105.6 380.3 L1106.1 381 L1106.6 381.5 L1107.1 381.9 L1107.6 382.1 L1108.1 382.3 L1108.6 382.4 L1109.1 382.4 L1109.6 382.5 L1110.1 382.5 L1110.6 382.5 L1111.1 382.5 L1111.6 382.5 L1112.1 382.5 L1112.6 382.5 L1113.1 382.5 L1113.6 382.5 L1114.1 382.5 L1114.6 382.5 L1115.1 382.5 L1115.6 382.5 L1116.1 382.5 L1116.6 382.5" fill="#efefef" fill-opacity="0.92" stroke="#cfcfcf" stroke-width="1.1"/>
<path d="M1081.4 382.4 L1081.9 382.4 L1082.4 382.4 L1082.9 382.3 L1083.4 382.3 L1083.9 382.3 L1084.4 382.2 L1084.9 382.2 L1085.4 382.2 L1085.9 382.1 L1086.4 382 L1086.9 382 L1087.4 381.9 L1087.9 381.8 L1088.4 381.7 L1088.9 381.5 L1089.4 381.4 L1089.9 381.2 L1090.4 381 L1090.9 380.8 L1091.4 380.6 L1091.9 380.3 L1092.4 380 L1092.9 379.7 L1093.4 379.3 L1093.9 378.9 L1094.4 378.4 L1094.9 377.9 L1095.4 377.3 L1095.9 376.7 L1096.4 376 L1096.9 375.2 L1097.4 374.3 L1097.9 373.4 L1098.4 372.4 L1098.9 371.2 L1099.4 370 L1099.9 368.6 L1100.4 367.1 L1100.9 365.5 L1101.4 363.7 L1101.9 361.8 L1102.4 359.8 L1102.9 357.6 L1103.4 355.2 L1103.9 352.6 L1104.4 349.9 L1104.9 347 L1105.4 343.9 L1105.9 340.5 L1106.4 337 L1106.9 333.3 L1107.4 329.3 L1107.9 325.1 L1108.4 320.8 L1108.9 316.1 L1109.4 311.3 L1109.9 306.3 L1110.4 301 L1110.9 295.5 L1111.4 289.8 L1111.9 283.9 L1112.4 277.8 L1112.9 271.6 L1113.4 265.1 L1113.9 258.5 L1114.4 251.8 L1114.9 244.9 L1115.4 237.9 L1115.9 230.9 L1116.4 223.7 L1116.9 216.5 L1117.4 209.3 L1117.9 202.1 L1118.4 194.9 L1118.9 187.8 L1119.4 180.8 L1119.9 173.8 L1120.4 167 L1120.9 160.3 L1121.4 153.9 L1121.9 147.7 L1122.4 141.7 L1122.9 136 L1123.4 130.5 L1123.9 125.5 L1124.4 120.7 L1124.9 116.4 L1125.4 112.4 L1125.9 108.9 L1126.4 105.8 L1126.9 103.1 L1127.4 100.9 L1127.9 99.2 L1128.4 98 L1128.9 97.2 L1129.4 97 L1129.9 97.2 L1130.4 97.7 L1130.9 98.6 L1131.4 99.9 L1131.9 101.5 L1132.4 103.5 L1132.9 105.8 L1133.4 108.4 L1133.9 111.4 L1134.4 114.6 L1134.9 118.2 L1135.4 122.1 L1135.9 126.2 L1136.4 130.5 L1136.9 135.2 L1137.4 140 L1137.9 145.1 L1138.4 150.3 L1138.9 155.7 L1139.4 161.3 L1139.9 167 L1140.4 172.8 L1140.9 178.8 L1141.4 184.8 L1141.9 190.9 L1142.4 197 L1142.9 203.2 L1143.4 209.3 L1143.9 215.5 L1144.4 221.7 L1144.9 227.8 L1145.4 233.9 L1145.9 239.9 L1146.4 245.9 L1146.9 251.8 L1147.4 257.6 L1147.9 263.3 L1148.4 268.8 L1148.9 274.3 L1149.4 279.6 L1149.9 284.8 L1150.4 289.8 L1150.9 294.7 L1151.4 299.4 L1151.9 304 L1152.4 308.4 L1152.9 312.7 L1153.4 316.8 L1153.9 320.8 L1154.4 324.5 L1154.9 328.2 L1155.4 331.6 L1155.9 334.9 L1156.4 338 L1156.9 341 L1157.4 343.9 L1157.9 346.5 L1158.4 349.1 L1158.9 351.5 L1159.4 353.8 L1159.9 355.9 L1160.4 357.9 L1160.9 359.8 L1161.4 361.6 L1161.9 363.2 L1162.4 364.8 L1162.9 366.2 L1163.4 367.5 L1163.9 368.8 L1164.4 370 L1164.9 371 L1165.4 372 L1165.9 373 L1166.4 373.8 L1166.9 374.6 L1167.4 375.3 L1167.9 376 L1168.4 376.6 L1168.9 377.2 L1169.4 377.7 L1169.9 378.2 L1170.4 378.6 L1170.9 379 L1171.4 379.3 L1171.9 379.7 L1172.4 379.9 L1172.9 380.2 L1173.4 380.5 L1173.9 380.7 L1174.4 380.9 L1174.9 381 L1175.4 381.2 L1175.9 381.4 L1176.4 381.5 L1176.9 381.6 L1177.4 381.7 L1177.9 381.8 L1178.4 381.9 L1178.9 381.9 L1179.4 382 L1179.9 382.1 L1180.4 382.1 L1180.9 382.2 L1181.4 382.2 L1181.9 382.2 L1182.4 382.3 L1182.9 382.3 L1183.4 382.3 L1183.9 382.4 L1184.4 382.4 L1184.9 382.4 L1185.4 382.4" fill="#efefef" fill-opacity="0.92" stroke="#cfcfcf" stroke-width="1.1"/>
<path d="M1159.5 382.4 L1160 382.4 L1160.5 382.4 L1161 382.4 L1161.5 382.4 L1162 382.3 L1162.5 382.3 L1163 382.3 L1163.5 382.3 L1164 382.3 L1164.5 382.2 L1165 382.2 L1165.5 382.2 L1166 382.1 L1166.5 382.1 L1167 382 L1167.5 382 L1168 381.9 L1168.5 381.8 L1169 381.8 L1169.5 381.7 L1170 381.6 L1170.5 381.5 L1171 381.4 L1171.5 381.2 L1172 381.1 L1172.5 381 L1173 380.8 L1173.5 380.6 L1174 380.4 L1174.5 380.2 L1175 380 L1175.5 379.8 L1176 379.5 L1176.5 379.2 L1177 378.9 L1177.5 378.5 L1178 378.2 L1178.5 377.8 L1179 377.3 L1179.5 376.9 L1180 376.4 L1180.5 375.8 L1181 375.2 L1181.5 374.6 L1182 374 L1182.5 373.2 L1183 372.5 L1183.5 371.6 L1184 370.8 L1184.5 369.8 L1185 368.8 L1185.5 367.8 L1186 366.7 L1186.5 365.5 L1187 364.2 L1187.5 362.8 L1188 361.4 L1188.5 359.9 L1189 358.3 L1189.5 356.7 L1190 354.9 L1190.5 353.1 L1191 351.1 L1191.5 349.1 L1192 346.9 L1192.5 344.7 L1193 342.4 L1193.5 339.9 L1194 337.4 L1194.5 334.7 L1195 332 L1195.5 329.1 L1196 326.1 L1196.5 323 L1197 319.8 L1197.5 316.5 L1198 313.1 L1198.5 309.6 L1199 306 L1199.5 302.3 L1200 298.5 L1200.5 294.6 L1201 290.6 L1201.5 286.5 L1202 282.4 L1202.5 278.1 L1203 273.8 L1203.5 269.4 L1204 265 L1204.5 260.5 L1205 255.9 L1205.5 251.3 L1206 246.7 L1206.5 242 L1207 237.4 L1207.5 232.7 L1208 228 L1208.5 223.3 L1209 218.7 L1209.5 214.1 L1210 209.5 L1210.5 204.9 L1211 200.5 L1211.5 196.1 L1212 191.7 L1212.5 187.5 L1213 183.4 L1213.5 179.3 L1214 175.4 L1214.5 171.6 L1215 168 L1215.5 164.5 L1216 161.2 L1216.5 158 L1217 155.1 L1217.5 152.3 L1218 149.7 L1218.5 147.3 L1219 145.1 L1219.5 143.1 L1220 141.3 L1220.5 139.8 L1221 138.5 L1221.5 137.4 L1222 136.6 L1222.5 136 L1223 135.6 L1223.5 135.5 L1224 135.6 L1224.5 136 L1225 136.5 L1225.5 137.3 L1226 138.3 L1226.5 139.5 L1227 141 L1227.5 142.7 L1228 144.5 L1228.5 146.6 L1229 148.8 L1229.5 151.3 L1230 153.9 L1230.5 156.8 L1231 159.7 L1231.5 162.9 L1232 166.2 L1232.5 169.6 L1233 173.2 L1233.5 176.9 L1234 180.8 L1234.5 184.7 L1235 188.8 L1235.5 192.9 L1236 197.1 L1236.5 201.4 L1237 205.8 L1237.5 210.2 L1238 214.6 L1238.5 219.1 L1239 223.6 L1239.5 228.1 L1240 232.7 L1240.5 237.2 L1241 241.8 L1241.5 246.3 L1242 250.8 L1242.5 255.2 L1243 259.6 L1243.5 264 L1244 268.3 L1244.5 272.6 L1245 276.8 L1245.5 281 L1246 285 L1246.5 289 L1247 292.9 L1247.5 296.7 L1248 300.5 L1248.5 304.1 L1249 307.7 L1249.5 311.1 L1250 314.5 L1250.5 317.7 L1251 320.9 L1251.5 324 L1252 326.9 L1252.5 329.8 L1253 332.5 L1253.5 335.2 L1254 337.8 L1254.5 340.2 L1255 342.6 L1255.5 344.8 L1256 347 L1256.5 349.1 L1257 351.1 L1257.5 352.9 L1258 354.7 L1258.5 356.5 L1259 358.1 L1259.5 359.6 L1260 361.1 L1260.5 362.5 L1261 363.8 L1261.5 365.1 L1262 366.3 L1262.5 367.4 L1263 368.4 L1263.5 369.4 L1264 370.4 L1264.5 371.2 L1265 372.1 L1265.5 372.8 L1266 373.5 L1266.5 374.2 L1267 374.9 L1267.5 375.4 L1268 376 L1268.5 376.5 L1269 377 L1269.5 377.4 L1270 377.8 L1270.5 378.2 L1271 378.6 L1271.5 378.9 L1272 379.2 L1272.5 379.5 L1273 379.8 L1273.5 380 L1274 380.2 L1274.5 380.4 L1275 380.6 L1275.5 380.8 L1276 380.9 L1276.5 381.1 L1277 381.2 L1277.5 381.3 L1278 381.4 L1278.5 381.5 L1279 381.6 L1279.5 381.7 L1280 381.8 L1280.5 381.9 L1281 381.9 L1281.5 382 L1282 382 L1282.5 382.1 L1283 382.1 L1283.5 382.2 L1284 382.2 L1284.5 382.2 L1285 382.3 L1285.5 382.3 L1286 382.3 L1286.5 382.3 L1287 382.3 L1287.5 382.4 L1288 382.4 L1288.5 382.4 L1289 382.4 L1289.5 382.4" fill="#efefef" fill-opacity="0.92" stroke="#cfcfcf" stroke-width="1.1"/>
<path d="M1323.3 382.5 L1323.8 382.5 L1324.3 382.5 L1324.8 382.4 L1325.3 382.4 L1325.8 382.4 L1326.3 382.4 L1326.8 382.3 L1327.3 382.3 L1327.8 382.2 L1328.3 382.1 L1328.8 381.9 L1329.3 381.7 L1329.8 381.5 L1330.3 381.2 L1330.8 380.9 L1331.3 380.5 L1331.8 379.9 L1332.3 379.3 L1332.8 378.6 L1333.3 377.7 L1333.8 376.7 L1334.3 375.5 L1334.8 374.1 L1335.3 372.5 L1335.8 370.8 L1336.3 368.9 L1336.8 366.7 L1337.3 364.4 L1337.8 362 L1338.3 359.4 L1338.8 356.6 L1339.3 353.8 L1339.8 351 L1340.3 348.1 L1340.8 345.3 L1341.3 342.6 L1341.8 340 L1342.3 337.7 L1342.8 335.6 L1343.3 333.8 L1343.8 332.4 L1344.3 331.4 L1344.8 330.7 L1345.3 330.5 L1345.8 330.7 L1346.3 331.4 L1346.8 332.4 L1347.3 333.8 L1347.8 335.6 L1348.3 337.7 L1348.8 340 L1349.3 342.6 L1349.8 345.3 L1350.3 348.1 L1350.8 351 L1351.3 353.8 L1351.8 356.6 L1352.3 359.4 L1352.8 362 L1353.3 364.4 L1353.8 366.7 L1354.3 368.9 L1354.8 370.8 L1355.3 372.5 L1355.8 374.1 L1356.3 375.5 L1356.8 376.7 L1357.3 377.7 L1357.8 378.6 L1358.3 379.3 L1358.8 379.9 L1359.3 380.5 L1359.8 380.9 L1360.3 381.2 L1360.8 381.5 L1361.3 381.7 L1361.8 381.9 L1362.3 382.1 L1362.8 382.2 L1363.3 382.3 L1363.8 382.3 L1364.3 382.4 L1364.8 382.4 L1365.3 382.4 L1365.8 382.4 L1366.3 382.5 L1366.8 382.5 L1367.3 382.5" fill="#efefef" fill-opacity="0.92" stroke="#cfcfcf" stroke-width="1.1"/>
<line x1="1038.5" y1="382.8" x2="1370.3" y2="382.8" stroke="#e2e2e2" stroke-width="1"/>
<path d="M866.2 383 L866.7 383 L867.2 383 L867.7 383 L868.2 383 L868.7 383 L869.2 383 L869.7 383 L870.2 383 L870.7 383 L871.2 383 L871.7 383 L872.2 383 L872.7 383 L873.2 383 L873.7 383 L874.2 383 L874.7 383 L875.2 383 L875.7 383 L876.2 383 L876.7 383 L877.2 383 L877.7 383 L878.2 383 L878.7 382.9 L879.2 382.9 L879.7 382.7 L880.2 382.6 L880.7 382.4 L881.2 382.2 L881.7 382.1 L882.2 381.9 L882.7 381.8 L883.2 381.6 L883.7 381.4 L884.2 381.2 L884.7 381.1 L885.2 381 L885.7 381 L886.2 381.1 L886.7 381.2 L887.2 381.4 L887.7 381.6 L888.2 381.7 L888.7 381.9 L889.2 382.1 L889.7 382.2 L890.2 382.4 L890.7 382.5 L891.2 382.7 L891.7 382.8 L892.2 382.9 L892.7 383 L893.2 383 L893.7 383 L894.2 383 L894.7 383 L895.2 383 L895.7 383 L896.2 383 L896.7 383 L897.2 383 L897.7 383 L898.2 383.1 L898.7 383.1 L899.2 383.1 L899.7 383.1 L900.2 383.1 L900.7 383.1 L901.2 383.1 L901.7 383.1 L902.2 383.1 L902.7 383.1 L903.2 383.1 L903.7 383.1 L904.2 383.1 L904.7 383.1 L905.2 383.1 L905.7 383.1 L906.2 383.1 L906.7 383.1 L907.2 383.1 L907.7 383.1 L908.2 383.1 L908.7 383.1 L909.2 383.1 L909.7 383.1 L910.2 383.1 L910.7 383.1 L911.2 383.1 L911.7 383.1 L912.2 383.2 L912.7 383.2 L913.2 383.2 L913.7 383.2 L914.2 383.2 L914.7 383.2 L915.2 383.2 L915.7 383.2 L916.2 383.2 L916.7 383.2 L917.2 383.2 L917.7 383.2 L918.2 383.2 L918.7 383.2 L919.2 383.2 L919.7 383.2 L920.2 383.2 L920.7 383.2 L921.2 383.2 L921.7 383.2 L922.2 383.2 L922.7 383.2 L923.2 383.2 L923.7 383.2 L924.2 383.2 L924.7 383.2 L925.2 383.2 L925.7 383.2 L926.2 383.2 L926.7 383.2 L927.2 383.2 L927.7 383.2 L928.2 383.2 L928.7 383.2 L929.2 383.2 L929.7 383.2 L930.2 383.2 L930.7 383.2 L931.2 383.2 L931.7 383.2 L932.2 383.2 L932.7 383.2 L933.2 383.2 L933.7 383.2 L934.2 383.2 L934.7 383.2 L935.2 383.2 L935.7 383.2 L936.2 383.2 L936.7 383.2 L937.2 383.2 L937.7 383.2 L938.2 383.2 L938.7 383.2 L939.2 383.2 L939.7 383.2 L940.2 383.2 L940.7 383.2 L941.2 383.2 L941.7 383.2 L942.2 383.2 L942.7 383.2 L943.2 383.2 L943.7 383.2 L944.2 383.2 L944.7 383.2 L945.2 383.2 L945.7 383.2 L946.2 383.2 L946.7 383.2 L947.2 383.2 L947.7 383.2 L948.2 383.2 L948.7 383.2 L949.2 383.2 L949.7 383.2 L950.2 383.2 L950.7 383.2 L951.2 383.2 L951.7 383.2 L952.2 383.2 L952.7 383.2 L953.2 383.2 L953.7 383.2 L954.2 383.2 L954.7 383.2 L955.2 383.2 L955.7 383.2 L956.2 383.2 L956.7 383.2 L957.2 383.2 L957.7 383.2 L958.2 383.2 L958.7 383.2 L959.2 383.2 L959.7 383.2 L960.2 383.2 L960.7 383.2 L961.2 383.2 L961.7 383.2 L962.2 383.2 L962.7 383.2 L963.2 383.2 L963.7 383.2 L964.2 383.2 L964.7 383.2 L965.2 383.2 L965.7 383.2 L966.2 383.2 L966.7 383.2 L967.2 383.2 L967.7 383.2 L968.2 383.2 L968.7 383.2 L969.2 383.2 L969.7 383.1 L970.2 383.1 L970.7 383.1 L971.2 383.1 L971.7 383.1 L972.2 383.1 L972.7 383.1 L973.2 383.1 L973.7 383.1 L974.2 383.1 L974.7 383.1 L975.2 383.1 L975.7 383.1 L976.2 383.1 L976.7 383.1 L977.2 383.1 L977.7 383.1 L978.2 383.1 L978.7 383.1 L979.2 383.1 L979.7 383.1 L980.2 383.1 L980.7 383.1 L981.2 383.1 L981.7 383.1 L982.2 383.1 L982.7 383.1 L983.2 383.1 L983.7 383.1 L984.2 383.1 L984.7 383.1 L985.2 383.1 L985.7 383.1 L986.2 383.1 L986.7 383.1 L987.2 383.1 L987.7 383.1 L988.2 383.1 L988.7 383.1 L989.2 383.1 L989.7 383.1 L990.2 383.1 L990.7 383.1 L991.2 383.1 L991.7 383.1 L992.2 383 L992.7 383 L993.2 383 L993.7 383 L994.2 383 L994.7 383 L995.2 383 L995.7 383 L996.2 383 L996.7 383 L997.2 383 L997.7 383 L998.2 383 L998.7 383 L999.2 383 L999.7 383 L1000.2 383 L1000.7 383 L1001.2 383 L1001.7 383 L1002.2 383 L1002.7 383 L1003.2 383 L1003.7 383 L1004.2 383 L1004.7 383 L1005.2 382.9 L1005.7 382.9 L1006.2 382.9 L1006.7 382.9 L1007.2 382.9 L1007.7 382.9 L1008.2 382.9 L1008.7 382.9 L1009.2 382.9 L1009.7 382.9 L1010.2 382.8 L1010.7 382.8 L1011.2 382.8 L1011.7 382.8 L1012.2 382.8 L1012.7 382.8 L1013.2 382.8 L1013.7 382.7 L1014.2 382.7 L1014.7 382.7 L1015.2 382.7 L1015.7 382.6 L1016.2 382.6 L1016.7 382.6 L1017.2 382.5 L1017.7 382.5 L1018.2 382.4 L1018.7 382.4 L1019.2 382.3 L1019.7 382.1 L1020.2 382 L1020.7 381.8 L1021.2 381.6 L1021.7 381.4 L1022.2 381.1 L1022.7 380.9 L1023.2 380.6 L1023.7 380.4 L1024.2 380.1 L1024.7 379.8 L1025.2 379.5 L1025.7 379.1 L1026.2 378.8 L1026.7 378.4 L1027.2 378 L1027.7 377.6 L1028.2 377.2 L1028.7 376.8 L1029.2 376.5 L1029.7 376 L1030.2 375.6 L1030.7 375.2 L1031.2 374.8 L1031.7 374.4 L1032.2 374 L1032.7 373.6 L1033.2 373.3 L1033.7 372.9 L1034.2 372.6 L1034.7 372.2 L1035.2 371.9 L1035.7 371.7 L1036.2 371.4 L1036.7 371.2 L1037.2 371.1 L1037.7 370.9 L1038.2 370.8 L1038.7 370.7 L1039.2 370.6 L1039.7 370.5 L1040.2 370.4 L1040.7 370.2 L1041.2 370.1 L1041.7 370.1 L1042.2 370 L1042.7 369.8 L1043.2 369.7 L1043.7 369.5 L1044.2 369.3 L1044.7 368.8 L1045.2 368 L1045.7 367.1 L1046.2 366.1 L1046.7 365.1 L1047.2 364 L1047.7 362.8 L1048.2 361.4 L1048.7 359.6 L1049.2 357.1 L1049.7 353.7 L1050.2 349.8 L1050.7 345.5 L1051.2 341.3 L1051.7 336.7 L1052.2 331.9 L1052.7 326.9 L1053.2 322.1 L1053.7 317.6 L1054.2 313.2 L1054.7 308.9 L1055.2 304.8 L1055.7 300.8 L1056.2 296.8 L1056.7 293 L1057.2 289.6 L1057.7 286.6 L1058.2 283.8 L1058.7 281.3 L1059.2 279.3 L1059.7 277.8 L1060.2 276.4 L1060.7 275.3 L1061.2 274.8 L1061.7 275.1 L1062.2 276.2 L1062.7 277.6 L1063.2 279 L1063.7 280.6 L1064.2 282.4 L1064.7 284.4 L1065.2 286.5 L1065.7 288.6 L1066.2 290.9 L1066.7 293.2 L1067.2 295.6 L1067.7 298 L1068.2 300.5 L1068.7 303 L1069.2 305.6 L1069.7 308.2 L1070.2 310.7 L1070.7 312.9 L1071.2 315.1 L1071.7 317.1 L1072.2 319.1 L1072.7 320.9 L1073.2 322.7 L1073.7 324.4 L1074.2 326 L1074.7 327.6 L1075.2 329.1 L1075.7 330.4 L1076.2 331.4 L1076.7 332.3 L1077.2 333.1 L1077.7 333.8 L1078.2 334.3 L1078.7 334.8 L1079.2 335.2 L1079.7 335.6 L1080.2 335.9 L1080.7 336 L1081.2 335.9 L1081.7 335.7 L1082.2 335.4 L1082.7 334.9 L1083.2 334.4 L1083.7 333.9 L1084.2 333.5 L1084.7 333 L1085.2 332.5 L1085.7 332 L1086.2 331.4 L1086.7 330.9 L1087.2 330.4 L1087.7 330 L1088.2 329.8 L1088.7 329.7 L1089.2 329.8 L1089.7 330.1 L1090.2 330.5 L1090.7 330.9 L1091.2 331.4 L1091.7 332 L1092.2 332.6 L1092.7 333.1 L1093.2 333.6 L1093.7 334.3 L1094.2 334.9 L1094.7 335.6 L1095.2 336.4 L1095.7 337.1 L1096.2 337.8 L1096.7 338.4 L1097.2 339 L1097.7 339.5 L1098.2 340 L1098.7 340.5 L1099.2 341 L1099.7 341.4 L1100.2 341.8 L1100.7 342.1 L1101.2 342.5 L1101.7 342.9 L1102.2 343.2 L1102.7 343.5 L1103.2 343.6 L1103.7 343.6 L1104.2 343.4 L1104.7 343 L1105.2 342.6 L1105.7 342.1 L1106.2 341.5 L1106.7 340.7 L1107.2 339.7 L1107.7 338.6 L1108.2 337.2 L1108.7 335.4 L1109.2 333.1 L1109.7 330.5 L1110.2 327.7 L1110.7 324.4 L1111.2 320.7 L1111.7 316.6 L1112.2 311.9 L1112.7 307.1 L1113.2 302.1 L1113.7 295.2 L1114.2 282.6 L1114.7 266.8 L1115.2 252.3 L1115.7 242.7 L1116.2 231 L1116.7 215.5 L1117.2 201.2 L1117.7 190.4 L1118.2 180.8 L1118.7 171.5 L1119.2 161.7 L1119.7 150.5 L1120.2 139.1 L1120.7 129.3 L1121.2 122.3 L1121.7 116.4 L1122.2 111.2 L1122.7 106.6 L1123.2 102.4 L1123.7 98.5 L1124.2 94.7 L1124.7 91.2 L1125.2 88 L1125.7 85.4 L1126.2 83.2 L1126.7 81.1 L1127.2 79.7 L1127.7 79.5 L1128.2 80.6 L1128.7 82.5 L1129.2 84.6 L1129.7 86.7 L1130.2 89.3 L1130.7 92.2 L1131.2 95.4 L1131.7 98.8 L1132.2 102.7 L1132.7 107.1 L1133.2 111.9 L1133.7 116.9 L1134.2 122.1 L1134.7 127.3 L1135.2 132.7 L1135.7 138.3 L1136.2 144.2 L1136.7 150.2 L1137.2 156.3 L1137.7 162.5 L1138.2 168.9 L1138.7 175.7 L1139.2 182.6 L1139.7 189.5 L1140.2 196.2 L1140.7 202.5 L1141.2 208.5 L1141.7 214.4 L1142.2 220.2 L1142.7 225.7 L1143.2 231 L1143.7 235.9 L1144.2 240.5 L1144.7 244.3 L1145.2 248.2 L1145.7 253 L1146.2 258.7 L1146.7 265.1 L1147.2 271.6 L1147.7 278 L1148.2 283.8 L1148.7 288.6 L1149.2 292.4 L1149.7 295.8 L1150.2 298.9 L1150.7 301.8 L1151.2 304.6 L1151.7 307.3 L1152.2 309.9 L1152.7 312.3 L1153.2 314.7 L1153.7 316.9 L1154.2 319.1 L1154.7 321.2 L1155.2 323.1 L1155.7 325 L1156.2 326.8 L1156.7 328.6 L1157.2 330.3 L1157.7 331.8 L1158.2 333 L1158.7 334 L1159.2 334.8 L1159.7 335.5 L1160.2 336.2 L1160.7 336.8 L1161.2 337.4 L1161.7 337.9 L1162.2 338.4 L1162.7 338.9 L1163.2 339.5 L1163.7 340.1 L1164.2 340.8 L1164.7 341.5 L1165.2 342.2 L1165.7 342.9 L1166.2 343.6 L1166.7 344.3 L1167.2 345 L1167.7 345.7 L1168.2 346.5 L1168.7 347.2 L1169.2 348 L1169.7 348.7 L1170.2 349.4 L1170.7 350.1 L1171.2 350.8 L1171.7 351.5 L1172.2 352.2 L1172.7 352.9 L1173.2 353.5 L1173.7 354.1 L1174.2 354.7 L1174.7 355.4 L1175.2 356 L1175.7 356.6 L1176.2 357.1 L1176.7 357.5 L1177.2 357.7 L1177.7 358 L1178.2 358.2 L1178.7 358.4 L1179.2 358.5 L1179.7 358.7 L1180.2 358.8 L1180.7 358.8 L1181.2 358.7 L1181.7 358.5 L1182.2 358.1 L1182.7 357.7 L1183.2 357.3 L1183.7 356.8 L1184.2 356.3 L1184.7 355.6 L1185.2 355 L1185.7 354.4 L1186.2 354 L1186.7 353.8 L1187.2 353.5 L1187.7 353.4 L1188.2 353.2 L1188.7 353 L1189.2 352.9 L1189.7 352.7 L1190.2 352.6 L1190.7 352.5 L1191.2 352.4 L1191.7 352.3 L1192.2 352.1 L1192.7 351.9 L1193.2 351.5 L1193.7 350.9 L1194.2 350.2 L1194.7 349.5 L1195.2 348.7 L1195.7 347.7 L1196.2 346.5 L1196.7 345.2 L1197.2 343.8 L1197.7 342.2 L1198.2 340.4 L1198.7 338.5 L1199.2 336.3 L1199.7 334 L1200.2 331.4 L1200.7 328.4 L1201.2 325.1 L1201.7 321.7 L1202.2 318.1 L1202.7 314.3 L1203.2 310.2 L1203.7 306 L1204.2 301.8 L1204.7 297.9 L1205.2 294.2 L1205.7 290.3 L1206.2 285.8 L1206.7 280.3 L1207.2 272.4 L1207.7 262.6 L1208.2 252.1 L1208.7 240.9 L1209.2 230.7 L1209.7 221.2 L1210.2 212.3 L1210.7 204.2 L1211.2 197 L1211.7 190.4 L1212.2 184.2 L1212.7 178.4 L1213.2 172.9 L1213.7 167.7 L1214.2 162.8 L1214.7 158 L1215.2 153.5 L1215.7 149.1 L1216.2 145 L1216.7 141.1 L1217.2 137.6 L1217.7 134.3 L1218.2 131.3 L1218.7 128.5 L1219.2 126 L1219.7 123.9 L1220.2 122 L1220.7 120.1 L1221.2 118.6 L1221.7 117.8 L1222.2 118.1 L1222.7 119.3 L1223.2 121 L1223.7 122.8 L1224.2 124.6 L1224.7 126.6 L1225.2 128.9 L1225.7 131.4 L1226.2 134 L1226.7 136.7 L1227.2 139.7 L1227.7 142.9 L1228.2 146.3 L1228.7 149.8 L1229.2 153.4 L1229.7 157.1 L1230.2 160.8 L1230.7 164.5 L1231.2 168.2 L1231.7 172.1 L1232.2 176 L1232.7 179.9 L1233.2 183.9 L1233.7 188 L1234.2 192.1 L1234.7 196.3 L1235.2 200.4 L1235.7 204.7 L1236.2 209.2 L1236.7 213.8 L1237.2 218.5 L1237.7 223.1 L1238.2 227.6 L1238.7 231.9 L1239.2 235.9 L1239.7 239.4 L1240.2 242.6 L1240.7 245.5 L1241.2 248.3 L1241.7 251.1 L1242.2 253.9 L1242.7 256.7 L1243.2 259.4 L1243.7 262.2 L1244.2 265 L1244.7 267.9 L1245.2 270.9 L1245.7 274 L1246.2 277.1 L1246.7 280.2 L1247.2 283.3 L1247.7 286.4 L1248.2 289.4 L1248.7 292.4 L1249.2 295.5 L1249.7 298.5 L1250.2 301.6 L1250.7 304.6 L1251.2 307.6 L1251.7 310.5 L1252.2 313.3 L1252.7 316.1 L1253.2 318.8 L1253.7 321.4 L1254.2 324 L1254.7 326.5 L1255.2 328.9 L1255.7 331.3 L1256.2 333.5 L1256.7 335.7 L1257.2 337.8 L1257.7 339.9 L1258.2 341.9 L1258.7 343.8 L1259.2 345.7 L1259.7 347.4 L1260.2 348.9 L1260.7 350.3 L1261.2 351.7 L1261.7 353 L1262.2 354.2 L1262.7 355.3 L1263.2 356.5 L1263.7 357.5 L1264.2 358.6 L1264.7 359.6 L1265.2 360.6 L1265.7 361.5 L1266.2 362.4 L1266.7 363.3 L1267.2 364.1 L1267.7 364.9 L1268.2 365.6 L1268.7 366.4 L1269.2 367 L1269.7 367.7 L1270.2 368.4 L1270.7 369 L1271.2 369.5 L1271.7 370 L1272.2 370.4 L1272.7 370.8 L1273.2 371.2 L1273.7 371.5 L1274.2 371.8 L1274.7 372.1 L1275.2 372.3 L1275.7 372.5 L1276.2 372.7 L1276.7 373 L1277.2 373.1 L1277.7 373.2 L1278.2 373.3 L1278.7 373.3 L1279.2 373.3 L1279.7 373.3 L1280.2 373.2 L1280.7 373.2 L1281.2 373.1 L1281.7 373.1 L1282.2 373.1 L1282.7 373 L1283.2 373 L1283.7 373 L1284.2 373 L1284.7 373 L1285.2 373 L1285.7 373 L1286.2 373.1 L1286.7 373.1 L1287.2 373.1 L1287.7 373.2 L1288.2 373.2 L1288.7 373.3 L1289.2 373.3 L1289.7 373.4 L1290.2 373.4 L1290.7 373.5 L1291.2 373.6 L1291.7 373.7 L1292.2 373.8 L1292.7 373.9 L1293.2 374 L1293.7 374.2 L1294.2 374.3 L1294.7 374.4 L1295.2 374.4 L1295.7 374.5 L1296.2 374.6 L1296.7 374.6 L1297.2 374.7 L1297.7 374.7 L1298.2 374.8 L1298.7 374.8 L1299.2 374.9 L1299.7 375 L1300.2 375 L1300.7 375.1 L1301.2 375.2 L1301.7 375.3 L1302.2 375.3 L1302.7 375.4 L1303.2 375.5 L1303.7 375.6 L1304.2 375.7 L1304.7 375.8 L1305.2 375.9 L1305.7 375.9 L1306.2 376 L1306.7 376.1 L1307.2 376.2 L1307.7 376.3 L1308.2 376.4 L1308.7 376.5 L1309.2 376.6 L1309.7 376.7 L1310.2 376.8 L1310.7 376.9 L1311.2 377 L1311.7 377.2 L1312.2 377.3 L1312.7 377.4 L1313.2 377.5 L1313.7 377.6 L1314.2 377.7 L1314.7 377.8 L1315.2 377.9 L1315.7 378.1 L1316.2 378.2 L1316.7 378.3 L1317.2 378.4 L1317.7 378.5 L1318.2 378.6 L1318.7 378.7 L1319.2 378.8 L1319.7 378.9 L1320.2 379.1 L1320.7 379.2 L1321.2 379.3 L1321.7 379.4 L1322.2 379.5 L1322.7 379.6 L1323.2 379.7 L1323.7 379.7 L1324.2 379.8 L1324.7 379.8 L1325.2 379.8 L1325.7 379.7 L1326.2 379.6 L1326.7 379.3 L1327.2 379.1 L1327.7 378.8 L1328.2 378.4 L1328.7 378 L1329.2 377.5 L1329.7 376.9 L1330.2 376.1 L1330.7 375.2 L1331.2 374.3 L1331.7 373.3 L1332.2 372.2 L1332.7 370.9 L1333.2 369.5 L1333.7 367.9 L1334.2 366.3 L1334.7 364.6 L1335.2 362.8 L1335.7 360.8 L1336.2 358.7 L1336.7 356.7 L1337.2 354.7 L1337.7 352.6 L1338.2 350.5 L1338.7 348.4 L1339.2 346.4 L1339.7 344.4 L1340.2 342.4 L1340.7 340.4 L1341.2 338.3 L1341.7 336.1 L1342.2 333.9 L1342.7 331.9 L1343.2 330.4 L1343.7 329 L1344.2 327.7 L1344.7 326.9 L1345.2 326.8 L1345.7 327.5 L1346.2 328.7 L1346.7 330.1 L1347.2 331.6 L1347.7 333.5 L1348.2 335.6 L1348.7 337.9 L1349.2 340 L1349.7 341.9 L1350.2 343.8 L1350.7 345.7 L1351.2 347.6 L1351.7 349.7 L1352.2 352 L1352.7 354.3 L1353.2 356.3 L1353.7 358.1 L1354.2 359.8 L1354.7 361.4 L1355.2 362.9 L1355.7 364.2 L1356.2 365.5 L1356.7 366.7 L1357.2 367.8 L1357.7 368.8 L1358.2 369.8 L1358.7 370.7 L1359.2 371.6 L1359.7 372.4 L1360.2 373.2 L1360.7 374 L1361.2 374.6 L1361.7 375.2 L1362.2 375.8 L1362.7 376.3 L1363.2 376.8 L1363.7 377.3 L1364.2 377.7 L1364.7 378.1 L1365.2 378.4 L1365.7 378.8 L1366.2 379.1 L1366.7 379.4 L1367.2 379.7 L1367.7 380 L1368.2 380.2 L1368.7 380.5 L1369.2 380.7 L1369.7 380.9 L1370.2 381.1 L1370.7 381.3 L1371.2 381.4 L1371.7 381.6 L1372.2 381.8 L1372.7 381.9 L1373.2 382.1 L1373.7 382.2 L1374.2 382.3 L1374.7 382.4 L1375.2 382.4 L1375.7 382.5 L1376.2 382.5 L1376.7 382.5 L1377.2 382.6 L1377.7 382.6 L1378.2 382.6 L1378.7 382.7 L1379.2 382.7 L1379.7 382.7 L1380.2 382.7 L1380.7 382.8 L1381.2 382.8 L1381.7 382.8 L1382.2 382.8 L1382.7 382.9 L1383.2 382.9 L1383.7 382.9 L1384.2 382.9 L1384.7 382.9 L1385.2 382.9 L1385.7 383 L1386.2 383 L1386.7 383 L1387.2 383 L1387.7 383 L1388.2 383 L1388.7 383 L1389.2 383 L1389.7 383 L1390.2 383 L1390.7 383 L1391.2 383 L1391.7 383 L1392.2 383 L1392.7 383 L1393.2 383 L1393.7 383 L1394.2 383 L1394.7 383 L1395.2 383 L1395.7 383 L1396.2 383 L1396.7 383 L1397.2 383 L1397.7 383 L1398.2 383 L1398.7 383 L1399.2 383 L1399.7 383 L1400.2 383 L1400.7 383 L1401.2 383 L1401.7 383 L1402.2 383 L1402.7 383 L1403.2 383 L1403.7 383 L1404.2 383 L1404.7 383 L1405.2 383 L1405.7 383 L1406.2 383 L1406.7 383 L1407.2 383 L1407.7 383 L1408.2 383 L1408.7 383 L1409.2 383 L1409.7 383 L1410.2 383 L1410.7 383 L1411.2 383 L1411.7 383 L1412.2 383 L1412.7 383 L1413.2 383 L1413.7 383 L1414.2 383 L1414.7 383 L1415.2 383 L1415.7 383 L1416.2 383 L1416.7 383 L1417.2 383 L1417.7 383 L1418.2 383 L1418.7 383 L1419.2 383 L1419.7 383 L1420.2 383 L1420.7 383 L1421.2 383 L1421.7 383 L1422.2 383 L1422.7 383 L1423.2 383 L1423.7 383 L1424.2 383 L1424.7 383 L1425.2 383 L1425.7 383 L1426.2 383 L1426.7 383 L1427.2 383 L1427.7 383 L1428.2 383 L1428.7 383 L1429.2 383 L1429.7 383 L1430.2 383 L1430.7 383 L1431.2 383 L1431.7 383 L1432.2 383 L1432.7 383 L1433.2 383 L1433.7 383 L1434.2 383 L1434.7 383 L1435.2 383 L1435.7 383 L1436.2 383 L1436.7 383 L1437.2 383 L1437.7 383 L1438.2 383 L1438.7 383 L1439.2 383 L1439.7 383 L1440.2 383 L1440.7 383 L1441.2 383 L1441.7 383 L1442.2 383 L1442.7 383 L1443.2 383 L1443.7 383 L1444.2 383 L1444.7 383 L1445.2 383 L1445.7 383 L1446.2 383 L1446.7 383 L1447.2 383 L1447.7 383 L1448.2 383 L1448.7 383 L1449.2 383 L1449.7 383 L1450.2 383 L1450.7 383 L1451.2 383 L1451.7 383 L1452.2 383 L1452.7 383 L1453.2 383 L1453.7 383 L1454.2 383 L1454.7 383 L1455.2 383 L1455.7 383 L1456.2 383 L1456.7 383 L1457.2 383 L1457.7 383 L1458.2 383 L1458.7 383 L1459.2 383 L1459.7 383 L1460.2 383 L1460.7 383 L1461.2 383 L1461.7 383 L1462.2 383 L1462.7 383 L1463.2 383 L1463.7 383 L1464.2 383 L1464.7 383 L1465.2 383 L1465.7 383 L1466.2 383 L1466.7 383 L1467.2 383 L1467.7 383 L1468.2 383 L1468.7 383 L1469.2 383 L1469.7 383" fill="none" stroke="#a3a3f2" stroke-width="2.1" stroke-linejoin="round" stroke-linecap="round"/>
<line x1="866.2" y1="44" x2="866.2" y2="399" stroke="#e2e2e2" stroke-width="1.5"/>
<line x1="865.5" y1="399" x2="1470.2" y2="399" stroke="#c8c8c8" stroke-width="2.2"/>
<text x="861.2" y="390.5" font-size="23.2" fill="#0c0c0c" stroke="#0c0c0c" stroke-width="0.8" text-anchor="end" textLength="14.2" lengthAdjust="spacingAndGlyphs">0</text>
<text x="861.2" y="350.7" font-size="23.2" fill="#0c0c0c" stroke="#0c0c0c" stroke-width="0.8" text-anchor="end" textLength="41" lengthAdjust="spacingAndGlyphs">100</text>
<text x="861.2" y="308.3" font-size="23.2" fill="#0c0c0c" stroke="#0c0c0c" stroke-width="0.8" text-anchor="end" textLength="41" lengthAdjust="spacingAndGlyphs">200</text>
<text x="861.2" y="268.5" font-size="23.2" fill="#0c0c0c" stroke="#0c0c0c" stroke-width="0.8" text-anchor="end" textLength="41" lengthAdjust="spacingAndGlyphs">300</text>
<text x="861.2" y="227.4" font-size="23.2" fill="#0c0c0c" stroke="#0c0c0c" stroke-width="0.8" text-anchor="end" textLength="41" lengthAdjust="spacingAndGlyphs">400</text>
<text x="861.2" y="187" font-size="23.2" fill="#0c0c0c" stroke="#0c0c0c" stroke-width="0.8" text-anchor="end" textLength="41" lengthAdjust="spacingAndGlyphs">500</text>
<text x="861.2" y="145.8" font-size="23.2" fill="#0c0c0c" stroke="#0c0c0c" stroke-width="0.8" text-anchor="end" textLength="41" lengthAdjust="spacingAndGlyphs">600</text>
<text x="861.2" y="104.1" font-size="23.2" fill="#0c0c0c" stroke="#0c0c0c" stroke-width="0.8" text-anchor="end" textLength="41" lengthAdjust="spacingAndGlyphs">700</text>
<text x="861.2" y="61.7" font-size="23.2" fill="#0c0c0c" stroke="#0c0c0c" stroke-width="0.8" text-anchor="end" textLength="41" lengthAdjust="spacingAndGlyphs">800</text>
<text x="909.9" y="422.8" font-size="23" fill="#0c0c0c" stroke="#0c0c0c" stroke-width="0.8" text-anchor="middle" textLength="34.9" lengthAdjust="spacingAndGlyphs">5.0</text>
<text x="996.3" y="422.8" font-size="23" fill="#0c0c0c" stroke="#0c0c0c" stroke-width="0.8" text-anchor="middle" textLength="34.9" lengthAdjust="spacingAndGlyphs">5.2</text>
<text x="1082.4" y="422.8" font-size="23" fill="#0c0c0c" stroke="#0c0c0c" stroke-width="0.8" text-anchor="middle" textLength="34.9" lengthAdjust="spacingAndGlyphs">5.4</text>
<text x="1170.2" y="422.8" font-size="23" fill="#0c0c0c" stroke="#0c0c0c" stroke-width="0.8" text-anchor="middle" textLength="34.9" lengthAdjust="spacingAndGlyphs">5.6</text>
<text x="1255.6" y="422.8" font-size="23" fill="#0c0c0c" stroke="#0c0c0c" stroke-width="0.8" text-anchor="middle" textLength="34.9" lengthAdjust="spacingAndGlyphs">5.8</text>
<text x="1342.3" y="422.8" font-size="23" fill="#0c0c0c" stroke="#0c0c0c" stroke-width="0.8" text-anchor="middle" textLength="34.9" lengthAdjust="spacingAndGlyphs">6.0</text>
<text x="1428.5" y="422.8" font-size="23" fill="#0c0c0c" stroke="#0c0c0c" stroke-width="0.8" text-anchor="middle" textLength="34.9" lengthAdjust="spacingAndGlyphs">6.2</text>
<text x="1158.7" y="455.5" font-size="22.9" fill="#0c0c0c" stroke="#0c0c0c" stroke-width="0.8" textLength="20" lengthAdjust="spacingAndGlyphs">pI</text>
<text transform="translate(802.9 224.8) rotate(-90) scale(1 1.03)" font-size="23.6" fill="#0c0c0c" stroke="#0c0c0c" stroke-width="0.7" text-anchor="middle" textLength="215.7" lengthAdjust="spacingAndGlyphs">Chemiluminescence</text>
<text x="755.7" y="32.2" font-size="32.5" fill="#000" stroke="#000" stroke-width="0.3" font-weight="bold">B</text>
<text x="883.5" y="76.5" font-size="23.6" fill="#0c0c0c" stroke="#0c0c0c" stroke-width="0.8" textLength="69.5" lengthAdjust="spacingAndGlyphs">+ Cinn</text>
<text x="1112.9" y="72.9" font-size="19.4" fill="#303030" stroke="#303030" stroke-width="0.5" textLength="36" lengthAdjust="spacingAndGlyphs">5.51</text>
<text x="1207.4" y="112.3" font-size="19.4" fill="#303030" stroke="#303030" stroke-width="0.5" textLength="36" lengthAdjust="spacingAndGlyphs">5.74</text>
<text x="1047.9" y="268.7" font-size="19.4" fill="#303030" stroke="#303030" stroke-width="0.5" textLength="36" lengthAdjust="spacingAndGlyphs">5.36</text>
<text x="1076.3" y="319.1" font-size="19.4" fill="#303030" stroke="#303030" stroke-width="0.5" textLength="36" lengthAdjust="spacingAndGlyphs">5.41</text>
<text x="1330.7" y="319.8" font-size="19.4" fill="#303030" stroke="#303030" stroke-width="0.5" textLength="36" lengthAdjust="spacingAndGlyphs">6.02</text>
<path d="M1096.9 255.3 V296.4" stroke="#2d9bd7" stroke-width="2.3" fill="none"/>
<path d="M1089.3 285.5 L1096.9 290.6 L1104.5 285.5 L1096.9 300.4 Z" fill="#2d9bd7"/>
</g>
<g>
<path d="M316.5 865.2 L317 865.2 L317.5 865.1 L318 865.1 L318.5 865 L319 864.9 L319.5 864.7 L320 864.3 L320.5 863.9 L321 863.1 L321.5 862.2 L322 860.8 L322.5 859 L323 856.8 L323.5 854 L324 850.6 L324.5 846.6 L325 842.1 L325.5 837 L326 831.5 L326.5 825.7 L327 819.7 L327.5 813.7 L328 807.8 L328.5 802.1 L329 796.8 L329.5 791.9 L330 787.6 L330.5 783.9 L331 780.8 L331.5 778.4 L332 776.5 L332.5 775.1 L333 774.2 L333.5 773.6 L334 773.3 L334.5 773.2 L335 773.2 L335.5 773.2 L336 773.3 L336.5 773.4 L337 773.7 L337.5 774.2 L338 774.8 L338.5 775.8 L339 777 L339.5 778.6 L340 780.5 L340.5 782.7 L341 785.3 L341.5 788.3 L342 791.7 L342.5 795.3 L343 799.3 L343.5 803.5 L344 808 L344.5 812.5 L345 817.2 L345.5 821.8 L346 826.4 L346.5 830.9 L347 835.2 L347.5 839.3 L348 843 L348.5 846.5 L349 849.6 L349.5 852.4 L350 854.8 L350.5 856.9 L351 858.7 L351.5 860.2 L352 861.4 L352.5 862.3 L353 863.1 L353.5 863.7 L354 864.1 L354.5 864.4 L355 864.7 L355.5 864.8 L356 865 L356.5 865 L357 865.1 L357.5 865.1 L358 865.2 L358.5 865.2 L359 865.2" fill="#efefef" fill-opacity="0.92" stroke="#cfcfcf" stroke-width="1.1"/>
<path d="M341.7 865.2 L342.2 865.2 L342.7 865.2 L343.2 865.2 L343.7 865.2 L344.2 865.2 L344.7 865.2 L345.2 865.2 L345.7 865.2 L346.2 865.2 L346.7 865.2 L347.2 865.2 L347.7 865.1 L348.2 865 L348.7 864.9 L349.2 864.6 L349.7 864.1 L350.2 863.4 L350.7 862.4 L351.2 861.1 L351.7 859.4 L352.2 857.3 L352.7 854.9 L353.2 852.2 L353.7 849.3 L354.2 846.4 L354.7 843.4 L355.2 840.6 L355.7 838 L356.2 835.7 L356.7 833.6 L357.2 831.9 L357.7 830.4 L358.2 829.3 L358.7 828.4 L359.2 827.8 L359.7 827.4 L360.2 827.1 L360.7 826.9 L361.2 826.8 L361.7 826.7 L362.2 826.7 L362.7 826.7 L363.2 826.7 L363.7 826.7 L364.2 826.7 L364.7 826.7 L365.2 826.8 L365.7 826.8 L366.2 827 L366.7 827.3 L367.2 827.6 L367.7 828.2 L368.2 829 L368.7 830 L369.2 831.4 L369.7 833 L370.2 835 L370.7 837.2 L371.2 839.8 L371.7 842.5 L372.2 845.4 L372.7 848.4 L373.2 851.3 L373.7 854.1 L374.2 856.6 L374.7 858.8 L375.2 860.6 L375.7 862.1 L376.2 863.2 L376.7 863.9 L377.2 864.5 L377.7 864.8 L378.2 865 L378.7 865.1 L379.2 865.2 L379.7 865.2 L380.2 865.2 L380.7 865.2 L381.2 865.2 L381.7 865.2 L382.2 865.2 L382.7 865.2 L383.2 865.2 L383.7 865.2 L384.2 865.2 L384.7 865.2 L385.2 865.2" fill="#efefef" fill-opacity="0.92" stroke="#cfcfcf" stroke-width="1.1"/>
<path d="M364.2 865.1 L364.7 865.1 L365.2 865.1 L365.7 865 L366.2 865 L366.7 864.9 L367.2 864.9 L367.7 864.8 L368.2 864.7 L368.7 864.6 L369.2 864.5 L369.7 864.3 L370.2 864.2 L370.7 863.9 L371.2 863.7 L371.7 863.4 L372.2 863.1 L372.7 862.7 L373.2 862.2 L373.7 861.7 L374.2 861.1 L374.7 860.4 L375.2 859.6 L375.7 858.7 L376.2 857.7 L376.7 856.5 L377.2 855.2 L377.7 853.7 L378.2 852 L378.7 850.1 L379.2 848 L379.7 845.7 L380.2 843.1 L380.7 840.2 L381.2 837.1 L381.7 833.6 L382.2 829.9 L382.7 825.8 L383.2 821.3 L383.7 816.6 L384.2 811.4 L384.7 805.9 L385.2 800 L385.7 793.7 L386.2 787.1 L386.7 780 L387.2 772.7 L387.7 765 L388.2 756.9 L388.7 748.6 L389.2 740 L389.7 731.2 L390.2 722.1 L390.7 712.9 L391.2 703.6 L391.7 694.2 L392.2 684.8 L392.7 675.5 L393.2 666.2 L393.7 657.2 L394.2 648.3 L394.7 639.8 L395.2 631.6 L395.7 623.8 L396.2 616.5 L396.7 609.7 L397.2 603.5 L397.7 598 L398.2 593.1 L398.7 589 L399.2 585.6 L399.7 583 L400.2 581.3 L400.7 580.4 L401.2 580.3 L401.7 580.8 L402.2 582.1 L402.7 583.9 L403.2 586.4 L403.7 589.5 L404.2 593.1 L404.7 597.4 L405.2 602.1 L405.7 607.4 L406.2 613.1 L406.7 619.2 L407.2 625.8 L407.7 632.7 L408.2 639.9 L408.7 647.4 L409.2 655.1 L409.7 663 L410.2 671 L410.7 679.2 L411.2 687.4 L411.7 695.6 L412.2 703.8 L412.7 712 L413.2 720.1 L413.7 728.1 L414.2 735.9 L414.7 743.5 L415.2 751 L415.7 758.2 L416.2 765.2 L416.7 772 L417.2 778.5 L417.7 784.7 L418.2 790.7 L418.7 796.4 L419.2 801.7 L419.7 806.8 L420.2 811.6 L420.7 816.2 L421.2 820.4 L421.7 824.4 L422.2 828.1 L422.7 831.5 L423.2 834.7 L423.7 837.7 L424.2 840.4 L424.7 842.9 L425.2 845.2 L425.7 847.3 L426.2 849.2 L426.7 850.9 L427.2 852.5 L427.7 854 L428.2 855.3 L428.7 856.4 L429.2 857.5 L429.7 858.4 L430.2 859.2 L430.7 860 L431.2 860.6 L431.7 861.2 L432.2 861.8 L432.7 862.2 L433.2 862.6 L433.7 863 L434.2 863.3 L434.7 863.5 L435.2 863.8 L435.7 864 L436.2 864.2 L436.7 864.3 L437.2 864.5 L437.7 864.6 L438.2 864.7 L438.7 864.7 L439.2 864.8 L439.7 864.9 L440.2 864.9 L440.7 865 L441.2 865 L441.7 865 L442.2 865.1 L442.7 865.1 L443.2 865.1" fill="#efefef" fill-opacity="0.92" stroke="#cfcfcf" stroke-width="1.1"/>
<path d="M438.7 865.1 L439.2 865.1 L439.7 865.1 L440.2 865.1 L440.7 865.1 L441.2 865.1 L441.7 865 L442.2 865 L442.7 865 L443.2 864.9 L443.7 864.9 L444.2 864.9 L444.7 864.8 L445.2 864.7 L445.7 864.7 L446.2 864.6 L446.7 864.5 L447.2 864.4 L447.7 864.3 L448.2 864.2 L448.7 864 L449.2 863.9 L449.7 863.7 L450.2 863.5 L450.7 863.3 L451.2 863 L451.7 862.8 L452.2 862.4 L452.7 862.1 L453.2 861.7 L453.7 861.3 L454.2 860.9 L454.7 860.4 L455.2 859.8 L455.7 859.2 L456.2 858.5 L456.7 857.8 L457.2 857 L457.7 856.2 L458.2 855.2 L458.7 854.2 L459.2 853.1 L459.7 851.9 L460.2 850.7 L460.7 849.3 L461.2 847.8 L461.7 846.2 L462.2 844.5 L462.7 842.7 L463.2 840.8 L463.7 838.7 L464.2 836.5 L464.7 834.2 L465.2 831.8 L465.7 829.2 L466.2 826.5 L466.7 823.6 L467.2 820.6 L467.7 817.5 L468.2 814.2 L468.7 810.8 L469.2 807.2 L469.7 803.6 L470.2 799.7 L470.7 795.8 L471.2 791.8 L471.7 787.6 L472.2 783.3 L472.7 778.9 L473.2 774.5 L473.7 769.9 L474.2 765.3 L474.7 760.7 L475.2 756 L475.7 751.2 L476.2 746.5 L476.7 741.8 L477.2 737 L477.7 732.3 L478.2 727.7 L478.7 723.1 L479.2 718.6 L479.7 714.2 L480.2 709.9 L480.7 705.7 L481.2 701.7 L481.7 697.9 L482.2 694.2 L482.7 690.8 L483.2 687.6 L483.7 684.5 L484.2 681.8 L484.7 679.3 L485.2 677 L485.7 675.1 L486.2 673.4 L486.7 672 L487.2 670.9 L487.7 670.1 L488.2 669.7 L488.7 669.5 L489.2 669.7 L489.7 670.1 L490.2 670.9 L490.7 672 L491.2 673.4 L491.7 675.1 L492.2 677 L492.7 679.3 L493.2 681.8 L493.7 684.5 L494.2 687.6 L494.7 690.8 L495.2 694.2 L495.7 697.9 L496.2 701.7 L496.7 705.7 L497.2 709.9 L497.7 714.2 L498.2 718.6 L498.7 723.1 L499.2 727.7 L499.7 732.3 L500.2 737 L500.7 741.8 L501.2 746.5 L501.7 751.2 L502.2 756 L502.7 760.7 L503.2 765.3 L503.7 769.9 L504.2 774.5 L504.7 778.9 L505.2 783.3 L505.7 787.6 L506.2 791.8 L506.7 795.8 L507.2 799.7 L507.7 803.6 L508.2 807.2 L508.7 810.8 L509.2 814.2 L509.7 817.5 L510.2 820.6 L510.7 823.6 L511.2 826.5 L511.7 829.2 L512.2 831.8 L512.7 834.2 L513.2 836.5 L513.7 838.7 L514.2 840.8 L514.7 842.7 L515.2 844.5 L515.7 846.2 L516.2 847.8 L516.7 849.3 L517.2 850.7 L517.7 851.9 L518.2 853.1 L518.7 854.2 L519.2 855.2 L519.7 856.2 L520.2 857 L520.7 857.8 L521.2 858.5 L521.7 859.2 L522.2 859.8 L522.7 860.4 L523.2 860.9 L523.7 861.3 L524.2 861.7 L524.7 862.1 L525.2 862.4 L525.7 862.8 L526.2 863 L526.7 863.3 L527.2 863.5 L527.7 863.7 L528.2 863.9 L528.7 864 L529.2 864.2 L529.7 864.3 L530.2 864.4 L530.7 864.5 L531.2 864.6 L531.7 864.7 L532.2 864.7 L532.7 864.8 L533.2 864.9 L533.7 864.9 L534.2 864.9 L534.7 865 L535.2 865 L535.7 865 L536.2 865.1 L536.7 865.1 L537.2 865.1 L537.7 865.1 L538.2 865.1 L538.7 865.1 L539.2 865.1" fill="#efefef" fill-opacity="0.92" stroke="#cfcfcf" stroke-width="1.1"/>
<path d="M594.8 865.2 L595.3 865.2 L595.8 865.2 L596.3 865.2 L596.8 865.1 L597.3 865.1 L597.8 865.1 L598.3 865.1 L598.8 865 L599.3 864.9 L599.8 864.9 L600.3 864.7 L600.8 864.6 L601.3 864.4 L601.8 864.2 L602.3 863.9 L602.8 863.5 L603.3 863.1 L603.8 862.6 L604.3 862 L604.8 861.2 L605.3 860.4 L605.8 859.4 L606.3 858.3 L606.8 857 L607.3 855.6 L607.8 854 L608.3 852.3 L608.8 850.5 L609.3 848.6 L609.8 846.5 L610.3 844.4 L610.8 842.3 L611.3 840.2 L611.8 838.2 L612.3 836.2 L612.8 834.4 L613.3 832.7 L613.8 831.3 L614.3 830.1 L614.8 829.1 L615.3 828.5 L615.8 828.2 L616.3 828.3 L616.8 828.6 L617.3 829.3 L617.8 830.3 L618.3 831.5 L618.8 833 L619.3 834.7 L619.8 836.6 L620.3 838.6 L620.8 840.6 L621.3 842.8 L621.8 844.9 L622.3 846.9 L622.8 849 L623.3 850.9 L623.8 852.7 L624.3 854.3 L624.8 855.9 L625.3 857.3 L625.8 858.5 L626.3 859.6 L626.8 860.6 L627.3 861.4 L627.8 862.1 L628.3 862.7 L628.8 863.2 L629.3 863.6 L629.8 864 L630.3 864.2 L630.8 864.5 L631.3 864.6 L631.8 864.8 L632.3 864.9 L632.8 865 L633.3 865 L633.8 865.1 L634.3 865.1 L634.8 865.1 L635.3 865.2 L635.8 865.2 L636.3 865.2 L636.8 865.2 L637.3 865.2" fill="#efefef" fill-opacity="0.92" stroke="#cfcfcf" stroke-width="1.1"/>
<line x1="313.5" y1="865.5" x2="640.3" y2="865.5" stroke="#e2e2e2" stroke-width="1"/>
<path d="M135.9 865.2 L136.4 865.2 L136.9 865.2 L137.4 865.2 L137.9 865.2 L138.4 865.2 L138.9 865.2 L139.4 865.2 L139.9 865.2 L140.4 865.2 L140.9 865.2 L141.4 865.2 L141.9 865.2 L142.4 865.2 L142.9 865.2 L143.4 865.2 L143.9 865.1 L144.4 865.1 L144.9 865.1 L145.4 865.1 L145.9 865.1 L146.4 865.1 L146.9 865.1 L147.4 865.1 L147.9 865.1 L148.4 865 L148.9 865 L149.4 865 L149.9 865 L150.4 865 L150.9 864.8 L151.4 864.7 L151.9 864.5 L152.4 864.2 L152.9 864 L153.4 863.8 L153.9 863.6 L154.4 863.5 L154.9 863.3 L155.4 863.1 L155.9 863 L156.4 862.8 L156.9 862.7 L157.4 862.6 L157.9 862.6 L158.4 862.6 L158.9 862.7 L159.4 862.8 L159.9 862.9 L160.4 863.1 L160.9 863.2 L161.4 863.4 L161.9 863.6 L162.4 863.7 L162.9 863.9 L163.4 864.2 L163.9 864.4 L164.4 864.6 L164.9 864.8 L165.4 864.9 L165.9 865 L166.4 865 L166.9 865 L167.4 865 L167.9 865 L168.4 865.1 L168.9 865.1 L169.4 865.1 L169.9 865.1 L170.4 865.1 L170.9 865.1 L171.4 865.1 L171.9 865.1 L172.4 865.1 L172.9 865.1 L173.4 865.1 L173.9 865.1 L174.4 865.2 L174.9 865.2 L175.4 865.2 L175.9 865.2 L176.4 865.2 L176.9 865.2 L177.4 865.2 L177.9 865.2 L178.4 865.2 L178.9 865.2 L179.4 865.2 L179.9 865.2 L180.4 865.2 L180.9 865.2 L181.4 865.2 L181.9 865.2 L182.4 865.2 L182.9 865.2 L183.4 865.3 L183.9 865.3 L184.4 865.3 L184.9 865.3 L185.4 865.3 L185.9 865.3 L186.4 865.3 L186.9 865.3 L187.4 865.3 L187.9 865.3 L188.4 865.3 L188.9 865.3 L189.4 865.3 L189.9 865.3 L190.4 865.3 L190.9 865.3 L191.4 865.3 L191.9 865.3 L192.4 865.3 L192.9 865.3 L193.4 865.3 L193.9 865.3 L194.4 865.3 L194.9 865.3 L195.4 865.3 L195.9 865.3 L196.4 865.3 L196.9 865.3 L197.4 865.3 L197.9 865.3 L198.4 865.3 L198.9 865.3 L199.4 865.3 L199.9 865.3 L200.4 865.3 L200.9 865.3 L201.4 865.3 L201.9 865.3 L202.4 865.3 L202.9 865.3 L203.4 865.3 L203.9 865.3 L204.4 865.3 L204.9 865.3 L205.4 865.3 L205.9 865.3 L206.4 865.3 L206.9 865.3 L207.4 865.3 L207.9 865.3 L208.4 865.3 L208.9 865.3 L209.4 865.3 L209.9 865.3 L210.4 865.3 L210.9 865.3 L211.4 865.3 L211.9 865.3 L212.4 865.3 L212.9 865.3 L213.4 865.3 L213.9 865.3 L214.4 865.3 L214.9 865.3 L215.4 865.3 L215.9 865.3 L216.4 865.3 L216.9 865.3 L217.4 865.3 L217.9 865.3 L218.4 865.3 L218.9 865.3 L219.4 865.3 L219.9 865.3 L220.4 865.3 L220.9 865.3 L221.4 865.3 L221.9 865.3 L222.4 865.3 L222.9 865.3 L223.4 865.3 L223.9 865.3 L224.4 865.3 L224.9 865.3 L225.4 865.3 L225.9 865.3 L226.4 865.3 L226.9 865.3 L227.4 865.3 L227.9 865.3 L228.4 865.3 L228.9 865.3 L229.4 865.3 L229.9 865.3 L230.4 865.3 L230.9 865.3 L231.4 865.3 L231.9 865.3 L232.4 865.3 L232.9 865.3 L233.4 865.3 L233.9 865.3 L234.4 865.3 L234.9 865.3 L235.4 865.3 L235.9 865.3 L236.4 865.3 L236.9 865.3 L237.4 865.3 L237.9 865.3 L238.4 865.3 L238.9 865.3 L239.4 865.3 L239.9 865.3 L240.4 865.3 L240.9 865.3 L241.4 865.3 L241.9 865.3 L242.4 865.3 L242.9 865.3 L243.4 865.3 L243.9 865.3 L244.4 865.3 L244.9 865.3 L245.4 865.3 L245.9 865.3 L246.4 865.3 L246.9 865.3 L247.4 865.3 L247.9 865.3 L248.4 865.3 L248.9 865.3 L249.4 865.3 L249.9 865.3 L250.4 865.3 L250.9 865.3 L251.4 865.3 L251.9 865.3 L252.4 865.3 L252.9 865.3 L253.4 865.3 L253.9 865.3 L254.4 865.3 L254.9 865.3 L255.4 865.3 L255.9 865.3 L256.4 865.3 L256.9 865.3 L257.4 865.3 L257.9 865.3 L258.4 865.3 L258.9 865.3 L259.4 865.3 L259.9 865.3 L260.4 865.3 L260.9 865.3 L261.4 865.3 L261.9 865.3 L262.4 865.3 L262.9 865.3 L263.4 865.3 L263.9 865.3 L264.4 865.3 L264.9 865.2 L265.4 865.2 L265.9 865.2 L266.4 865.2 L266.9 865.2 L267.4 865.2 L267.9 865.2 L268.4 865.2 L268.9 865.2 L269.4 865.2 L269.9 865.2 L270.4 865.2 L270.9 865.2 L271.4 865.2 L271.9 865.2 L272.4 865.2 L272.9 865.2 L273.4 865.2 L273.9 865.2 L274.4 865.2 L274.9 865.2 L275.4 865.2 L275.9 865.2 L276.4 865.2 L276.9 865.2 L277.4 865.2 L277.9 865.2 L278.4 865.2 L278.9 865.2 L279.4 865.2 L279.9 865.2 L280.4 865.2 L280.9 865.2 L281.4 865.2 L281.9 865.2 L282.4 865.2 L282.9 865.2 L283.4 865.2 L283.9 865.2 L284.4 865.2 L284.9 865.1 L285.4 865.1 L285.9 865 L286.4 864.9 L286.9 864.8 L287.4 864.7 L287.9 864.6 L288.4 864.5 L288.9 864.4 L289.4 864.3 L289.9 864.2 L290.4 864.1 L290.9 864 L291.4 863.9 L291.9 863.8 L292.4 863.7 L292.9 863.5 L293.4 863.4 L293.9 863.2 L294.4 863 L294.9 862.8 L295.4 862.6 L295.9 862.3 L296.4 862 L296.9 861.6 L297.4 861.2 L297.9 860.7 L298.4 860.3 L298.9 859.9 L299.4 859.5 L299.9 859 L300.4 858.6 L300.9 858.2 L301.4 857.7 L301.9 857.3 L302.4 856.9 L302.9 856.5 L303.4 856.2 L303.9 855.8 L304.4 855.5 L304.9 855.2 L305.4 854.9 L305.9 854.6 L306.4 854.3 L306.9 854.1 L307.4 853.9 L307.9 853.7 L308.4 853.5 L308.9 853.3 L309.4 853.1 L309.9 852.9 L310.4 852.8 L310.9 852.6 L311.4 852.5 L311.9 852.4 L312.4 852.3 L312.9 852.2 L313.4 852 L313.9 851.9 L314.4 851.8 L314.9 851.7 L315.4 851.5 L315.9 851.4 L316.4 851.2 L316.9 851 L317.4 850.7 L317.9 850.3 L318.4 849.7 L318.9 849.1 L319.4 848.4 L319.9 847.6 L320.4 846.5 L320.9 845.3 L321.4 843.8 L321.9 841.9 L322.4 839.8 L322.9 837.5 L323.4 835 L323.9 832.1 L324.4 828.9 L324.9 825.5 L325.4 821.4 L325.9 817.1 L326.4 812.8 L326.9 808.3 L327.4 803.8 L327.9 799.4 L328.4 795.2 L328.9 791.1 L329.4 787.2 L329.9 783.5 L330.4 780 L330.9 776.9 L331.4 774.1 L331.9 771.5 L332.4 769.3 L332.9 767.6 L333.4 766.1 L333.9 765.1 L334.4 765.2 L334.9 766.3 L335.4 768 L335.9 769.8 L336.4 772.3 L336.9 775.2 L337.4 778 L337.9 780.8 L338.4 783.7 L338.9 786.7 L339.4 789.7 L339.9 792.9 L340.4 796 L340.9 799.1 L341.4 802 L341.9 804.8 L342.4 807.5 L342.9 810 L343.4 812.4 L343.9 814.6 L344.4 816.7 L344.9 818.6 L345.4 820.4 L345.9 821.9 L346.4 823.4 L346.9 824.7 L347.4 826 L347.9 827.2 L348.4 828.2 L348.9 829.2 L349.4 830.1 L349.9 830.9 L350.4 831.6 L350.9 832.1 L351.4 832.5 L351.9 832.8 L352.4 833 L352.9 833.1 L353.4 832.9 L353.9 832.6 L354.4 832.1 L354.9 831.6 L355.4 831.1 L355.9 830.6 L356.4 830 L356.9 829.4 L357.4 828.8 L357.9 828.2 L358.4 827.6 L358.9 827 L359.4 826.4 L359.9 825.8 L360.4 825.2 L360.9 824.7 L361.4 824.2 L361.9 823.6 L362.4 823.2 L362.9 823 L363.4 823.1 L363.9 823.5 L364.4 824.1 L364.9 824.8 L365.4 825.5 L365.9 826.1 L366.4 826.9 L366.9 827.7 L367.4 828.5 L367.9 829.3 L368.4 830 L368.9 830.7 L369.4 831.3 L369.9 832 L370.4 832.6 L370.9 833.2 L371.4 833.7 L371.9 834.3 L372.4 834.9 L372.9 835.5 L373.4 836.1 L373.9 836.7 L374.4 837.3 L374.9 837.6 L375.4 837.8 L375.9 837.8 L376.4 837.6 L376.9 837.3 L377.4 837 L377.9 836.7 L378.4 836.2 L378.9 835.5 L379.4 834.7 L379.9 833.7 L380.4 832.7 L380.9 831.4 L381.4 830 L381.9 828.4 L382.4 826.6 L382.9 824.8 L383.4 822.8 L383.9 820.2 L384.4 816.7 L384.9 811.6 L385.4 805.9 L385.9 799.7 L386.4 792.5 L386.9 783.1 L387.4 773.2 L387.9 763.4 L388.4 751.4 L388.9 736.8 L389.4 718.1 L389.9 703.4 L390.4 692.4 L390.9 682.9 L391.4 674.1 L391.9 665.2 L392.4 656.4 L392.9 647.9 L393.4 639.8 L393.9 632.1 L394.4 624.9 L394.9 617.9 L395.4 611.2 L395.9 604.7 L396.4 598.6 L396.9 592.9 L397.4 587.5 L397.9 582.2 L398.4 577.4 L398.9 573.1 L399.4 569.7 L399.9 566.3 L400.4 564.1 L400.9 564.4 L401.4 566.9 L401.9 570.3 L402.4 573.9 L402.9 578.3 L403.4 583.3 L403.9 588.5 L404.4 594 L404.9 599.8 L405.4 606 L405.9 612.5 L406.4 619.3 L406.9 626.3 L407.4 633.7 L407.9 641.9 L408.4 650.5 L408.9 659.1 L409.4 667.3 L409.9 674.7 L410.4 681.8 L410.9 688.6 L411.4 695.4 L411.9 702.4 L412.4 710 L412.9 718.4 L413.4 727.3 L413.9 735.7 L414.4 742.6 L414.9 748.5 L415.4 753.9 L415.9 759.1 L416.4 764.5 L416.9 769.8 L417.4 775 L417.9 780 L418.4 785.1 L418.9 789.9 L419.4 794.1 L419.9 798.1 L420.4 801.7 L420.9 804.9 L421.4 807.8 L421.9 810.4 L422.4 812.9 L422.9 815.1 L423.4 817.1 L423.9 819 L424.4 820.7 L424.9 822.2 L425.4 823.6 L425.9 824.8 L426.4 825.9 L426.9 826.8 L427.4 827.3 L427.9 827.8 L428.4 828.2 L428.9 828.6 L429.4 828.8 L429.9 829.1 L430.4 829.3 L430.9 829.5 L431.4 829.6 L431.9 829.8 L432.4 830 L432.9 830.2 L433.4 830.4 L433.9 830.7 L434.4 831 L434.9 831.3 L435.4 831.7 L435.9 832.1 L436.4 832.5 L436.9 833.1 L437.4 833.7 L437.9 834.4 L438.4 835.3 L438.9 836.3 L439.4 837.2 L439.9 838.1 L440.4 839 L440.9 840 L441.4 840.9 L441.9 841.7 L442.4 842.5 L442.9 843.3 L443.4 844.1 L443.9 844.9 L444.4 845.5 L444.9 846.1 L445.4 846.6 L445.9 847.2 L446.4 847.6 L446.9 847.9 L447.4 848 L447.9 847.9 L448.4 847.8 L448.9 847.7 L449.4 847.5 L449.9 847.3 L450.4 847.1 L450.9 847 L451.4 846.8 L451.9 846.5 L452.4 846.3 L452.9 846 L453.4 845.8 L453.9 845.7 L454.4 845.6 L454.9 845.6 L455.4 845.7 L455.9 845.9 L456.4 846 L456.9 846.2 L457.4 846.3 L457.9 846.4 L458.4 846.4 L458.9 846.5 L459.4 846.5 L459.9 846.6 L460.4 846.6 L460.9 846.6 L461.4 846.3 L461.9 845.9 L462.4 845.5 L462.9 845 L463.4 844.3 L463.9 843.4 L464.4 842.4 L464.9 841.3 L465.4 840 L465.9 838.4 L466.4 836.6 L466.9 834.6 L467.4 832.2 L467.9 829.6 L468.4 826.6 L468.9 823.3 L469.4 819.6 L469.9 815.7 L470.4 811.6 L470.9 807.2 L471.4 802.3 L471.9 797 L472.4 791.5 L472.9 786 L473.4 780.8 L473.9 775.6 L474.4 770.3 L474.9 764.8 L475.4 758.7 L475.9 751.8 L476.4 744.9 L476.9 738.9 L477.4 733.9 L477.9 729.2 L478.4 724.9 L478.9 720.8 L479.4 716.8 L479.9 712.7 L480.4 708.4 L480.9 703.9 L481.4 699.4 L481.9 694.8 L482.4 690.2 L482.9 685.9 L483.4 681.8 L483.9 678 L484.4 674.3 L484.9 670.9 L485.4 667.7 L485.9 665 L486.4 662.5 L486.9 660 L487.4 658.2 L487.9 658 L488.4 659.4 L488.9 661.7 L489.4 664.1 L489.9 666.2 L490.4 668.4 L490.9 670.8 L491.4 673.4 L491.9 676.2 L492.4 679.4 L492.9 683 L493.4 687 L493.9 691.5 L494.4 696.3 L494.9 701.3 L495.4 706.4 L495.9 711.6 L496.4 717.5 L496.9 723.7 L497.4 729.9 L497.9 735.8 L498.4 741 L498.9 745.6 L499.4 750 L499.9 754.1 L500.4 758 L500.9 761.7 L501.4 765.2 L501.9 768.6 L502.4 771.8 L502.9 774.7 L503.4 777.5 L503.9 780.2 L504.4 782.7 L504.9 785.1 L505.4 787.3 L505.9 789.4 L506.4 791.4 L506.9 793.2 L507.4 794.9 L507.9 796.6 L508.4 798.4 L508.9 800.1 L509.4 801.8 L509.9 803.5 L510.4 805.4 L510.9 807.4 L511.4 809.6 L511.9 811.8 L512.4 814 L512.9 816.1 L513.4 818.2 L513.9 820.4 L514.4 822.5 L514.9 824.6 L515.4 826.8 L515.9 828.9 L516.4 831 L516.9 833.1 L517.4 835.1 L517.9 837.1 L518.4 839.1 L518.9 840.9 L519.4 842.5 L519.9 843.9 L520.4 845.2 L520.9 846.4 L521.4 847.5 L521.9 848.6 L522.4 849.6 L522.9 850.6 L523.4 851.5 L523.9 852.4 L524.4 853.2 L524.9 854 L525.4 854.7 L525.9 855.4 L526.4 856 L526.9 856.6 L527.4 857.2 L527.9 857.8 L528.4 858.3 L528.9 858.8 L529.4 859.2 L529.9 859.6 L530.4 860 L530.9 860.4 L531.4 860.8 L531.9 861.1 L532.4 861.4 L532.9 861.7 L533.4 862 L533.9 862.3 L534.4 862.5 L534.9 862.8 L535.4 863 L535.9 863.2 L536.4 863.4 L536.9 863.6 L537.4 863.7 L537.9 863.8 L538.4 864 L538.9 864.1 L539.4 864.2 L539.9 864.3 L540.4 864.4 L540.9 864.4 L541.4 864.4 L541.9 864.4 L542.4 864.4 L542.9 864.3 L543.4 864.3 L543.9 864.2 L544.4 864.2 L544.9 864.1 L545.4 864 L545.9 863.9 L546.4 863.9 L546.9 863.8 L547.4 863.7 L547.9 863.6 L548.4 863.6 L548.9 863.5 L549.4 863.5 L549.9 863.4 L550.4 863.3 L550.9 863.2 L551.4 863.2 L551.9 863.1 L552.4 863 L552.9 862.9 L553.4 862.9 L553.9 862.8 L554.4 862.8 L554.9 862.7 L555.4 862.7 L555.9 862.6 L556.4 862.6 L556.9 862.6 L557.4 862.6 L557.9 862.6 L558.4 862.7 L558.9 862.7 L559.4 862.8 L559.9 862.8 L560.4 862.9 L560.9 863 L561.4 863.1 L561.9 863.1 L562.4 863.2 L562.9 863.3 L563.4 863.4 L563.9 863.5 L564.4 863.5 L564.9 863.6 L565.4 863.6 L565.9 863.7 L566.4 863.8 L566.9 863.8 L567.4 863.9 L567.9 863.9 L568.4 864 L568.9 864 L569.4 864.1 L569.9 864.1 L570.4 864.2 L570.9 864.2 L571.4 864.2 L571.9 864.3 L572.4 864.3 L572.9 864.3 L573.4 864.3 L573.9 864.3 L574.4 864.4 L574.9 864.4 L575.4 864.4 L575.9 864.4 L576.4 864.4 L576.9 864.4 L577.4 864.5 L577.9 864.5 L578.4 864.5 L578.9 864.5 L579.4 864.5 L579.9 864.5 L580.4 864.5 L580.9 864.5 L581.4 864.6 L581.9 864.6 L582.4 864.6 L582.9 864.6 L583.4 864.6 L583.9 864.6 L584.4 864.6 L584.9 864.6 L585.4 864.6 L585.9 864.6 L586.4 864.6 L586.9 864.6 L587.4 864.7 L587.9 864.7 L588.4 864.7 L588.9 864.7 L589.4 864.7 L589.9 864.7 L590.4 864.7 L590.9 864.7 L591.4 864.7 L591.9 864.7 L592.4 864.7 L592.9 864.7 L593.4 864.7 L593.9 864.7 L594.4 864.7 L594.9 864.7 L595.4 864.7 L595.9 864.6 L596.4 864.5 L596.9 864.5 L597.4 864.4 L597.9 864.3 L598.4 864.1 L598.9 864 L599.4 863.9 L599.9 863.7 L600.4 863.4 L600.9 863.1 L601.4 862.7 L601.9 862.3 L602.4 861.8 L602.9 861.2 L603.4 860.5 L603.9 859.7 L604.4 858.9 L604.9 858 L605.4 857 L605.9 855.9 L606.4 854.7 L606.9 853.4 L607.4 852 L607.9 850.4 L608.4 848.7 L608.9 846.9 L609.4 845.1 L609.9 843.2 L610.4 841.2 L610.9 839.1 L611.4 837 L611.9 835.1 L612.4 833 L612.9 831 L613.4 829.2 L613.9 827.7 L614.4 826.3 L614.9 825 L615.4 824 L615.9 823.6 L616.4 824 L616.9 825 L617.4 826.3 L617.9 827.7 L618.4 829.2 L618.9 831 L619.4 833 L619.9 835.1 L620.4 837 L620.9 839 L621.4 840.9 L621.9 842.9 L622.4 844.7 L622.9 846.3 L623.4 847.9 L623.9 849.4 L624.4 850.8 L624.9 852.2 L625.4 853.5 L625.9 854.7 L626.4 855.8 L626.9 856.8 L627.4 857.7 L627.9 858.5 L628.4 859.2 L628.9 859.9 L629.4 860.4 L629.9 860.9 L630.4 861.3 L630.9 861.7 L631.4 862.1 L631.9 862.4 L632.4 862.7 L632.9 862.9 L633.4 863.2 L633.9 863.5 L634.4 863.7 L634.9 863.9 L635.4 864.1 L635.9 864.3 L636.4 864.4 L636.9 864.4 L637.4 864.5 L637.9 864.5 L638.4 864.6 L638.9 864.7 L639.4 864.7 L639.9 864.7 L640.4 864.8 L640.9 864.8 L641.4 864.9 L641.9 864.9 L642.4 864.9 L642.9 865 L643.4 865 L643.9 865 L644.4 865.1 L644.9 865.1 L645.4 865.1 L645.9 865.1 L646.4 865.1 L646.9 865.2 L647.4 865.2 L647.9 865.2 L648.4 865.2 L648.9 865.2 L649.4 865.2 L649.9 865.2 L650.4 865.2 L650.9 865.2 L651.4 865.2 L651.9 865.2 L652.4 865.2 L652.9 865.2 L653.4 865.2 L653.9 865.2 L654.4 865.2 L654.9 865.2 L655.4 865.2 L655.9 865.2 L656.4 865.2 L656.9 865.2 L657.4 865.2 L657.9 865.2 L658.4 865.2 L658.9 865.2 L659.4 865.2 L659.9 865.2 L660.4 865.2 L660.9 865.2 L661.4 865.2 L661.9 865.2 L662.4 865.2 L662.9 865.2 L663.4 865.2 L663.9 865.2 L664.4 865.2 L664.9 865.2 L665.4 865.2 L665.9 865.2 L666.4 865.2 L666.9 865.2 L667.4 865.2 L667.9 865.2 L668.4 865.2 L668.9 865.2 L669.4 865.2 L669.9 865.2 L670.4 865.2 L670.9 865.2 L671.4 865.2 L671.9 865.2 L672.4 865.2 L672.9 865.2 L673.4 865.2 L673.9 865.2 L674.4 865.2 L674.9 865.2 L675.4 865.2 L675.9 865.2 L676.4 865.2 L676.9 865.2 L677.4 865.2 L677.9 865.2 L678.4 865.2 L678.9 865.2 L679.4 865.2 L679.9 865.2 L680.4 865.2 L680.9 865.2 L681.4 865.2 L681.9 865.2 L682.4 865.2 L682.9 865.2 L683.4 865.2 L683.9 865.2 L684.4 865.2 L684.9 865.2 L685.4 865.2 L685.9 865.2 L686.4 865.2 L686.9 865.2 L687.4 865.2 L687.9 865.2 L688.4 865.2 L688.9 865.2 L689.4 865.2 L689.9 865.2 L690.4 865.2 L690.9 865.2 L691.4 865.2 L691.9 865.2 L692.4 865.2 L692.9 865.2 L693.4 865.2 L693.9 865.2 L694.4 865.2 L694.9 865.2 L695.4 865.2 L695.9 865.2 L696.4 865.2 L696.9 865.2 L697.4 865.2 L697.9 865.2 L698.4 865.2 L698.9 865.2 L699.4 865.2 L699.9 865.2 L700.4 865.2 L700.9 865.2 L701.4 865.2 L701.9 865.2 L702.4 865.2 L702.9 865.2 L703.4 865.2 L703.9 865.2 L704.4 865.2 L704.9 865.2 L705.4 865.2 L705.9 865.2 L706.4 865.2 L706.9 865.2 L707.4 865.2 L707.9 865.2 L708.4 865.2 L708.9 865.2 L709.4 865.2 L709.9 865.2 L710.4 865.2 L710.9 865.2 L711.4 865.2 L711.9 865.2 L712.4 865.2 L712.9 865.2 L713.4 865.2 L713.9 865.2 L714.4 865.2 L714.9 865.2 L715.4 865.2 L715.9 865.2 L716.4 865.2 L716.9 865.2 L717.4 865.2 L717.9 865.2 L718.4 865.2 L718.9 865.2 L719.4 865.2 L719.9 865.2 L720.4 865.2 L720.9 865.2 L721.4 865.2 L721.9 865.2 L722.4 865.2 L722.9 865.2 L723.4 865.2 L723.9 865.2 L724.4 865.2 L724.9 865.2 L725.4 865.2 L725.9 865.2 L726.4 865.2 L726.9 865.2 L727.4 865.2 L727.9 865.2 L728.4 865.2 L728.9 865.2 L729.4 865.2 L729.9 865.2 L730.4 865.2 L730.9 865.2 L731.4 865.2 L731.9 865.2 L732.4 865.2 L732.9 865.2 L733.4 865.2 L733.9 865.2 L734.4 865.2 L734.9 865.2 L735.4 865.2 L735.9 865.2 L736.4 865.2 L736.9 865.2 L737.4 865.2" fill="none" stroke="#a3a3f2" stroke-width="2.1" stroke-linejoin="round" stroke-linecap="round"/>
<line x1="135.2" y1="526.4" x2="135.2" y2="881.5" stroke="#d4d4d4" stroke-width="1.5"/>
<line x1="134.5" y1="881.5" x2="739.6" y2="881.5" stroke="#c8c8c8" stroke-width="3"/>
<text x="129.8" y="874.2" font-size="23.2" fill="#0c0c0c" stroke="#0c0c0c" stroke-width="0.8" text-anchor="end" textLength="14.2" lengthAdjust="spacingAndGlyphs">0</text>
<text x="131.6" y="822.3" font-size="23.2" fill="#0c0c0c" stroke="#0c0c0c" stroke-width="0.8" text-anchor="end" textLength="41.6" lengthAdjust="spacingAndGlyphs">100</text>
<text x="131.6" y="772.2" font-size="23.2" fill="#0c0c0c" stroke="#0c0c0c" stroke-width="0.8" text-anchor="end" textLength="41.6" lengthAdjust="spacingAndGlyphs">200</text>
<text x="131.6" y="723.2" font-size="23.2" fill="#0c0c0c" stroke="#0c0c0c" stroke-width="0.8" text-anchor="end" textLength="41.6" lengthAdjust="spacingAndGlyphs">300</text>
<text x="131.6" y="673.4" font-size="23.2" fill="#0c0c0c" stroke="#0c0c0c" stroke-width="0.8" text-anchor="end" textLength="41.6" lengthAdjust="spacingAndGlyphs">400</text>
<text x="131.6" y="623.5" font-size="23.2" fill="#0c0c0c" stroke="#0c0c0c" stroke-width="0.8" text-anchor="end" textLength="41.6" lengthAdjust="spacingAndGlyphs">500</text>
<text x="131.6" y="573" font-size="23.2" fill="#0c0c0c" stroke="#0c0c0c" stroke-width="0.8" text-anchor="end" textLength="41.6" lengthAdjust="spacingAndGlyphs">600</text>
<text x="179.1" y="907.9" font-size="23" fill="#0c0c0c" stroke="#0c0c0c" stroke-width="0.8" text-anchor="middle" textLength="34.9" lengthAdjust="spacingAndGlyphs">5.0</text>
<text x="266" y="907.9" font-size="23" fill="#0c0c0c" stroke="#0c0c0c" stroke-width="0.8" text-anchor="middle" textLength="34.9" lengthAdjust="spacingAndGlyphs">5.2</text>
<text x="352.3" y="907.9" font-size="23" fill="#0c0c0c" stroke="#0c0c0c" stroke-width="0.8" text-anchor="middle" textLength="34.9" lengthAdjust="spacingAndGlyphs">5.4</text>
<text x="440.2" y="907.9" font-size="23" fill="#0c0c0c" stroke="#0c0c0c" stroke-width="0.8" text-anchor="middle" textLength="34.9" lengthAdjust="spacingAndGlyphs">5.6</text>
<text x="525" y="907.9" font-size="23" fill="#0c0c0c" stroke="#0c0c0c" stroke-width="0.8" text-anchor="middle" textLength="34.9" lengthAdjust="spacingAndGlyphs">5.8</text>
<text x="611.1" y="907.9" font-size="23" fill="#0c0c0c" stroke="#0c0c0c" stroke-width="0.8" text-anchor="middle" textLength="34.9" lengthAdjust="spacingAndGlyphs">6.0</text>
<text x="697" y="907.9" font-size="23" fill="#0c0c0c" stroke="#0c0c0c" stroke-width="0.8" text-anchor="middle" textLength="34.9" lengthAdjust="spacingAndGlyphs">6.2</text>
<text x="427.9" y="941.3" font-size="22.9" fill="#0c0c0c" stroke="#0c0c0c" stroke-width="0.8" textLength="20" lengthAdjust="spacingAndGlyphs">pI</text>
<text transform="translate(72.4 705.2) rotate(-90) scale(1 1.03)" font-size="23.6" fill="#0c0c0c" stroke="#0c0c0c" stroke-width="0.7" text-anchor="middle" textLength="214.6" lengthAdjust="spacingAndGlyphs">Chemiluminescence</text>
<text x="11.9" y="524.2" font-size="32.5" fill="#000" stroke="#000" stroke-width="0.3" font-weight="bold">C</text>
<text x="153.1" y="556.5" font-size="23.6" fill="#0c0c0c" stroke="#0c0c0c" stroke-width="0.8" textLength="58.8" lengthAdjust="spacingAndGlyphs">+ Cur</text>
<text x="388.1" y="552.8" font-size="19.4" fill="#303030" stroke="#303030" stroke-width="0.5" textLength="36" lengthAdjust="spacingAndGlyphs">5.51</text>
<text x="470.7" y="649.3" font-size="19.4" fill="#303030" stroke="#303030" stroke-width="0.5" textLength="36" lengthAdjust="spacingAndGlyphs">5.74</text>
<text x="320.6" y="759.2" font-size="19.4" fill="#303030" stroke="#303030" stroke-width="0.5" textLength="36" lengthAdjust="spacingAndGlyphs">5.36</text>
<text x="349.8" y="815.1" font-size="19.4" fill="#303030" stroke="#303030" stroke-width="0.5" textLength="36" lengthAdjust="spacingAndGlyphs">5.41</text>
<text x="603.1" y="815.1" font-size="19.4" fill="#303030" stroke="#303030" stroke-width="0.5" textLength="36" lengthAdjust="spacingAndGlyphs">6.02</text>
<path d="M369.2 744.4 V786.4" stroke="#2d9bd7" stroke-width="2.3" fill="none"/>
<path d="M361.6 775.5 L369.2 780.6 L376.8 775.5 L369.2 790.4 Z" fill="#2d9bd7"/>
</g>
<g>
<path d="M1045.3 864.4 L1045.8 864.4 L1046.3 864.3 L1046.8 864.3 L1047.3 864.3 L1047.8 864.2 L1048.3 864.2 L1048.8 864.1 L1049.3 863.9 L1049.8 863.7 L1050.3 863.5 L1050.8 863.2 L1051.3 862.8 L1051.8 862.3 L1052.3 861.7 L1052.8 860.9 L1053.3 859.9 L1053.8 858.7 L1054.3 857.3 L1054.8 855.6 L1055.3 853.6 L1055.8 851.2 L1056.3 848.6 L1056.8 845.5 L1057.3 842.2 L1057.8 838.4 L1058.3 834.4 L1058.8 830 L1059.3 825.5 L1059.8 820.7 L1060.3 815.9 L1060.8 811 L1061.3 806.3 L1061.8 801.8 L1062.3 797.6 L1062.8 793.8 L1063.3 790.6 L1063.8 787.9 L1064.3 786 L1064.8 784.8 L1065.3 784.4 L1065.8 784.6 L1066.3 785.3 L1066.8 786.5 L1067.3 788.1 L1067.8 790.1 L1068.3 792.5 L1068.8 795.2 L1069.3 798.2 L1069.8 801.4 L1070.3 804.9 L1070.8 808.5 L1071.3 812.2 L1071.8 815.9 L1072.3 819.6 L1072.8 823.3 L1073.3 826.9 L1073.8 830.4 L1074.3 833.7 L1074.8 836.9 L1075.3 839.9 L1075.8 842.7 L1076.3 845.3 L1076.8 847.7 L1077.3 849.8 L1077.8 851.8 L1078.3 853.6 L1078.8 855.1 L1079.3 856.5 L1079.8 857.8 L1080.3 858.8 L1080.8 859.7 L1081.3 860.5 L1081.8 861.2 L1082.3 861.8 L1082.8 862.3 L1083.3 862.7 L1083.8 863 L1084.3 863.3 L1084.8 863.5 L1085.3 863.7 L1085.8 863.8 L1086.3 864 L1086.8 864.1 L1087.3 864.1 L1087.8 864.2 L1088.3 864.2 L1088.8 864.3 L1089.3 864.3 L1089.8 864.3 L1090.3 864.4 L1090.8 864.4 L1091.3 864.4" fill="#efefef" fill-opacity="0.92" stroke="#cfcfcf" stroke-width="1.1"/>
<path d="M1103.8 864.3 L1104.3 864.3 L1104.8 864.2 L1105.3 864.2 L1105.8 864.1 L1106.3 864.1 L1106.8 864 L1107.3 863.9 L1107.8 863.7 L1108.3 863.6 L1108.8 863.4 L1109.3 863.1 L1109.8 862.9 L1110.3 862.5 L1110.8 862.1 L1111.3 861.6 L1111.8 861 L1112.3 860.3 L1112.8 859.4 L1113.3 858.4 L1113.8 857.3 L1114.3 855.9 L1114.8 854.4 L1115.3 852.6 L1115.8 850.6 L1116.3 848.2 L1116.8 845.6 L1117.3 842.6 L1117.8 839.3 L1118.3 835.5 L1118.8 831.3 L1119.3 826.7 L1119.8 821.6 L1120.3 816 L1120.8 809.9 L1121.3 803.2 L1121.8 796.1 L1122.3 788.4 L1122.8 780.2 L1123.3 771.5 L1123.8 762.4 L1124.3 752.8 L1124.8 742.8 L1125.3 732.4 L1125.8 721.7 L1126.3 710.9 L1126.8 699.8 L1127.3 688.7 L1127.8 677.6 L1128.3 666.6 L1128.8 655.9 L1129.3 645.4 L1129.8 635.4 L1130.3 625.9 L1130.8 617 L1131.3 608.8 L1131.8 601.5 L1132.3 595 L1132.8 589.6 L1133.3 585.1 L1133.8 581.8 L1134.3 579.5 L1134.8 578.5 L1135.3 578.6 L1135.8 579.7 L1136.3 581.8 L1136.8 584.9 L1137.3 588.9 L1137.8 593.9 L1138.3 599.6 L1138.8 606.2 L1139.3 613.5 L1139.8 621.5 L1140.3 630 L1140.8 639.1 L1141.3 648.5 L1141.8 658.3 L1142.3 668.3 L1142.8 678.6 L1143.3 688.9 L1143.8 699.2 L1144.3 709.4 L1144.8 719.6 L1145.3 729.5 L1145.8 739.3 L1146.3 748.7 L1146.8 757.8 L1147.3 766.5 L1147.8 774.8 L1148.3 782.7 L1148.8 790.2 L1149.3 797.2 L1149.8 803.8 L1150.3 810 L1150.8 815.6 L1151.3 820.9 L1151.8 825.7 L1152.3 830.1 L1152.8 834.1 L1153.3 837.7 L1153.8 841 L1154.3 844 L1154.8 846.6 L1155.3 849 L1155.8 851.1 L1156.3 852.9 L1156.8 854.5 L1157.3 856 L1157.8 857.2 L1158.3 858.3 L1158.8 859.2 L1159.3 860 L1159.8 860.7 L1160.3 861.3 L1160.8 861.8 L1161.3 862.3 L1161.8 862.6 L1162.3 862.9 L1162.8 863.2 L1163.3 863.4 L1163.8 863.6 L1164.3 863.7 L1164.8 863.9 L1165.3 864 L1165.8 864.1 L1166.3 864.1 L1166.8 864.2 L1167.3 864.2 L1167.8 864.3 L1168.3 864.3 L1168.8 864.3" fill="#efefef" fill-opacity="0.92" stroke="#cfcfcf" stroke-width="1.1"/>
<path d="M1193.6 864.3 L1194.1 864.3 L1194.6 864.3 L1195.1 864.2 L1195.6 864.2 L1196.1 864.1 L1196.6 864.1 L1197.1 864 L1197.6 863.9 L1198.1 863.8 L1198.6 863.7 L1199.1 863.6 L1199.6 863.4 L1200.1 863.2 L1200.6 862.9 L1201.1 862.7 L1201.6 862.3 L1202.1 861.9 L1202.6 861.5 L1203.1 861 L1203.6 860.4 L1204.1 859.7 L1204.6 858.9 L1205.1 858 L1205.6 856.9 L1206.1 855.7 L1206.6 854.4 L1207.1 852.9 L1207.6 851.2 L1208.1 849.3 L1208.6 847.2 L1209.1 844.8 L1209.6 842.2 L1210.1 839.3 L1210.6 836.2 L1211.1 832.7 L1211.6 828.9 L1212.1 824.8 L1212.6 820.4 L1213.1 815.6 L1213.6 810.4 L1214.1 804.9 L1214.6 799.1 L1215.1 792.8 L1215.6 786.3 L1216.1 779.3 L1216.6 772.1 L1217.1 764.5 L1217.6 756.7 L1218.1 748.6 L1218.6 740.3 L1219.1 731.7 L1219.6 723.1 L1220.1 714.3 L1220.6 705.5 L1221.1 696.7 L1221.6 687.9 L1222.1 679.3 L1222.6 670.8 L1223.1 662.5 L1223.6 654.6 L1224.1 647 L1224.6 639.9 L1225.1 633.2 L1225.6 627 L1226.1 621.5 L1226.6 616.6 L1227.1 612.3 L1227.6 608.8 L1228.1 606 L1228.6 604 L1229.1 602.8 L1229.6 602.4 L1230.1 602.8 L1230.6 604 L1231.1 606 L1231.6 608.8 L1232.1 612.3 L1232.6 616.6 L1233.1 621.5 L1233.6 627 L1234.1 633.2 L1234.6 639.9 L1235.1 647 L1235.6 654.6 L1236.1 662.5 L1236.6 670.8 L1237.1 679.3 L1237.6 687.9 L1238.1 696.7 L1238.6 705.5 L1239.1 714.3 L1239.6 723.1 L1240.1 731.7 L1240.6 740.3 L1241.1 748.6 L1241.6 756.7 L1242.1 764.5 L1242.6 772.1 L1243.1 779.3 L1243.6 786.3 L1244.1 792.8 L1244.6 799.1 L1245.1 804.9 L1245.6 810.4 L1246.1 815.6 L1246.6 820.4 L1247.1 824.8 L1247.6 828.9 L1248.1 832.7 L1248.6 836.2 L1249.1 839.3 L1249.6 842.2 L1250.1 844.8 L1250.6 847.2 L1251.1 849.3 L1251.6 851.2 L1252.1 852.9 L1252.6 854.4 L1253.1 855.7 L1253.6 856.9 L1254.1 858 L1254.6 858.9 L1255.1 859.7 L1255.6 860.4 L1256.1 861 L1256.6 861.5 L1257.1 861.9 L1257.6 862.3 L1258.1 862.7 L1258.6 862.9 L1259.1 863.2 L1259.6 863.4 L1260.1 863.6 L1260.6 863.7 L1261.1 863.8 L1261.6 863.9 L1262.1 864 L1262.6 864.1 L1263.1 864.1 L1263.6 864.2 L1264.1 864.2 L1264.6 864.3 L1265.1 864.3 L1265.6 864.3" fill="#efefef" fill-opacity="0.92" stroke="#cfcfcf" stroke-width="1.1"/>
<path d="M1323.5 864.4 L1324 864.4 L1324.5 864.4 L1325 864.4 L1325.5 864.3 L1326 864.3 L1326.5 864.3 L1327 864.2 L1327.5 864.2 L1328 864.1 L1328.5 864 L1329 863.8 L1329.5 863.7 L1330 863.4 L1330.5 863.2 L1331 862.8 L1331.5 862.4 L1332 861.8 L1332.5 861.2 L1333 860.4 L1333.5 859.5 L1334 858.5 L1334.5 857.3 L1335 855.9 L1335.5 854.4 L1336 852.7 L1336.5 850.8 L1337 848.7 L1337.5 846.5 L1338 844.2 L1338.5 841.9 L1339 839.4 L1339.5 837 L1340 834.6 L1340.5 832.2 L1341 830.1 L1341.5 828.1 L1342 826.3 L1342.5 824.8 L1343 823.7 L1343.5 822.9 L1344 822.5 L1344.5 822.4 L1345 822.8 L1345.5 823.5 L1346 824.6 L1346.5 826 L1347 827.7 L1347.5 829.6 L1348 831.8 L1348.5 834.1 L1349 836.5 L1349.5 838.9 L1350 841.4 L1350.5 843.8 L1351 846.1 L1351.5 848.3 L1352 850.4 L1352.5 852.3 L1353 854 L1353.5 855.6 L1354 857 L1354.5 858.3 L1355 859.3 L1355.5 860.3 L1356 861.1 L1356.5 861.7 L1357 862.3 L1357.5 862.7 L1358 863.1 L1358.5 863.4 L1359 863.6 L1359.5 863.8 L1360 864 L1360.5 864.1 L1361 864.2 L1361.5 864.2 L1362 864.3 L1362.5 864.3 L1363 864.3 L1363.5 864.4 L1364 864.4 L1364.5 864.4 L1365 864.4 L1365.5 864.4" fill="#efefef" fill-opacity="0.92" stroke="#cfcfcf" stroke-width="1.1"/>
<line x1="1042.3" y1="864.7" x2="1368.5" y2="864.7" stroke="#e2e2e2" stroke-width="1"/>
<path d="M865.6 864.5 L866.1 864.5 L866.6 864.5 L867.1 864.5 L867.6 864.5 L868.1 864.5 L868.6 864.5 L869.1 864.5 L869.6 864.5 L870.1 864.5 L870.6 864.5 L871.1 864.5 L871.6 864.5 L872.1 864.5 L872.6 864.5 L873.1 864.5 L873.6 864.5 L874.1 864.5 L874.6 864.5 L875.1 864.5 L875.6 864.5 L876.1 864.5 L876.6 864.5 L877.1 864.5 L877.6 864.5 L878.1 864.5 L878.6 864.5 L879.1 864.4 L879.6 864.2 L880.1 864 L880.6 863.9 L881.1 863.7 L881.6 863.5 L882.1 863.3 L882.6 863.1 L883.1 862.9 L883.6 862.7 L884.1 862.5 L884.6 862.4 L885.1 862.2 L885.6 862.2 L886.1 862.3 L886.6 862.4 L887.1 862.6 L887.6 862.8 L888.1 863 L888.6 863.2 L889.1 863.4 L889.6 863.6 L890.1 863.7 L890.6 863.9 L891.1 864.1 L891.6 864.3 L892.1 864.4 L892.6 864.5 L893.1 864.5 L893.6 864.5 L894.1 864.5 L894.6 864.5 L895.1 864.5 L895.6 864.5 L896.1 864.5 L896.6 864.5 L897.1 864.6 L897.6 864.6 L898.1 864.6 L898.6 864.6 L899.1 864.6 L899.6 864.6 L900.1 864.6 L900.6 864.6 L901.1 864.6 L901.6 864.6 L902.1 864.6 L902.6 864.6 L903.1 864.6 L903.6 864.6 L904.1 864.6 L904.6 864.6 L905.1 864.6 L905.6 864.6 L906.1 864.6 L906.6 864.6 L907.1 864.6 L907.6 864.6 L908.1 864.6 L908.6 864.7 L909.1 864.7 L909.6 864.7 L910.1 864.7 L910.6 864.7 L911.1 864.7 L911.6 864.7 L912.1 864.7 L912.6 864.7 L913.1 864.7 L913.6 864.7 L914.1 864.7 L914.6 864.7 L915.1 864.7 L915.6 864.7 L916.1 864.7 L916.6 864.7 L917.1 864.7 L917.6 864.7 L918.1 864.7 L918.6 864.7 L919.1 864.7 L919.6 864.7 L920.1 864.7 L920.6 864.7 L921.1 864.7 L921.6 864.7 L922.1 864.7 L922.6 864.7 L923.1 864.7 L923.6 864.7 L924.1 864.7 L924.6 864.7 L925.1 864.7 L925.6 864.7 L926.1 864.7 L926.6 864.7 L927.1 864.7 L927.6 864.7 L928.1 864.7 L928.6 864.7 L929.1 864.7 L929.6 864.7 L930.1 864.7 L930.6 864.7 L931.1 864.7 L931.6 864.7 L932.1 864.7 L932.6 864.7 L933.1 864.7 L933.6 864.7 L934.1 864.7 L934.6 864.7 L935.1 864.7 L935.6 864.7 L936.1 864.7 L936.6 864.7 L937.1 864.7 L937.6 864.7 L938.1 864.7 L938.6 864.7 L939.1 864.7 L939.6 864.7 L940.1 864.7 L940.6 864.7 L941.1 864.7 L941.6 864.7 L942.1 864.7 L942.6 864.7 L943.1 864.7 L943.6 864.7 L944.1 864.7 L944.6 864.7 L945.1 864.7 L945.6 864.7 L946.1 864.7 L946.6 864.7 L947.1 864.7 L947.6 864.7 L948.1 864.7 L948.6 864.7 L949.1 864.7 L949.6 864.7 L950.1 864.7 L950.6 864.7 L951.1 864.7 L951.6 864.7 L952.1 864.7 L952.6 864.7 L953.1 864.7 L953.6 864.7 L954.1 864.7 L954.6 864.7 L955.1 864.7 L955.6 864.7 L956.1 864.7 L956.6 864.7 L957.1 864.7 L957.6 864.7 L958.1 864.7 L958.6 864.7 L959.1 864.7 L959.6 864.7 L960.1 864.7 L960.6 864.7 L961.1 864.7 L961.6 864.7 L962.1 864.7 L962.6 864.7 L963.1 864.7 L963.6 864.7 L964.1 864.7 L964.6 864.7 L965.1 864.7 L965.6 864.7 L966.1 864.6 L966.6 864.6 L967.1 864.6 L967.6 864.6 L968.1 864.6 L968.6 864.6 L969.1 864.6 L969.6 864.6 L970.1 864.6 L970.6 864.6 L971.1 864.6 L971.6 864.6 L972.1 864.6 L972.6 864.6 L973.1 864.6 L973.6 864.6 L974.1 864.6 L974.6 864.6 L975.1 864.6 L975.6 864.6 L976.1 864.6 L976.6 864.6 L977.1 864.6 L977.6 864.6 L978.1 864.6 L978.6 864.5 L979.1 864.5 L979.6 864.5 L980.1 864.5 L980.6 864.5 L981.1 864.5 L981.6 864.5 L982.1 864.5 L982.6 864.5 L983.1 864.5 L983.6 864.5 L984.1 864.5 L984.6 864.5 L985.1 864.5 L985.6 864.5 L986.1 864.5 L986.6 864.5 L987.1 864.5 L987.6 864.4 L988.1 864.4 L988.6 864.4 L989.1 864.4 L989.6 864.4 L990.1 864.4 L990.6 864.4 L991.1 864.4 L991.6 864.4 L992.1 864.4 L992.6 864.4 L993.1 864.4 L993.6 864.4 L994.1 864.4 L994.6 864.4 L995.1 864.3 L995.6 864.3 L996.1 864.3 L996.6 864.3 L997.1 864.3 L997.6 864.3 L998.1 864.3 L998.6 864.3 L999.1 864.3 L999.6 864.3 L1000.1 864.3 L1000.6 864.3 L1001.1 864.2 L1001.6 864.2 L1002.1 864.2 L1002.6 864.2 L1003.1 864.2 L1003.6 864.2 L1004.1 864.1 L1004.6 864.1 L1005.1 864.1 L1005.6 864.1 L1006.1 864 L1006.6 864 L1007.1 864 L1007.6 863.9 L1008.1 863.9 L1008.6 863.9 L1009.1 863.8 L1009.6 863.8 L1010.1 863.7 L1010.6 863.7 L1011.1 863.7 L1011.6 863.6 L1012.1 863.6 L1012.6 863.5 L1013.1 863.5 L1013.6 863.5 L1014.1 863.4 L1014.6 863.4 L1015.1 863.3 L1015.6 863.3 L1016.1 863.3 L1016.6 863.2 L1017.1 863.2 L1017.6 863.1 L1018.1 863.1 L1018.6 863.1 L1019.1 863 L1019.6 863 L1020.1 862.9 L1020.6 862.9 L1021.1 862.8 L1021.6 862.8 L1022.1 862.7 L1022.6 862.7 L1023.1 862.6 L1023.6 862.6 L1024.1 862.5 L1024.6 862.5 L1025.1 862.4 L1025.6 862.3 L1026.1 862.3 L1026.6 862.2 L1027.1 862.2 L1027.6 862.1 L1028.1 862 L1028.6 862 L1029.1 861.9 L1029.6 861.8 L1030.1 861.7 L1030.6 861.7 L1031.1 861.6 L1031.6 861.5 L1032.1 861.4 L1032.6 861.3 L1033.1 861.2 L1033.6 861.1 L1034.1 861 L1034.6 860.9 L1035.1 860.8 L1035.6 860.7 L1036.1 860.6 L1036.6 860.5 L1037.1 860.4 L1037.6 860.2 L1038.1 860.1 L1038.6 860 L1039.1 859.9 L1039.6 859.8 L1040.1 859.6 L1040.6 859.5 L1041.1 859.4 L1041.6 859.3 L1042.1 859.2 L1042.6 859 L1043.1 858.9 L1043.6 858.7 L1044.1 858.6 L1044.6 858.4 L1045.1 858.2 L1045.6 858.1 L1046.1 857.9 L1046.6 857.6 L1047.1 857.4 L1047.6 857 L1048.1 856.5 L1048.6 856 L1049.1 855.3 L1049.6 854.6 L1050.1 853.9 L1050.6 853.1 L1051.1 852.2 L1051.6 851.3 L1052.1 850.2 L1052.6 849 L1053.1 847.6 L1053.6 845.9 L1054.1 844 L1054.6 841.9 L1055.1 839.7 L1055.6 837.2 L1056.1 834.5 L1056.6 831.6 L1057.1 828.3 L1057.6 824.6 L1058.1 820.8 L1058.6 816.9 L1059.1 812.8 L1059.6 808.9 L1060.1 805.1 L1060.6 801.4 L1061.1 798 L1061.6 794.8 L1062.1 791.8 L1062.6 788.8 L1063.1 785.6 L1063.6 782.6 L1064.1 780 L1064.6 777.5 L1065.1 776.1 L1065.6 776.8 L1066.1 779.4 L1066.6 782.5 L1067.1 785.2 L1067.6 788.2 L1068.1 791.3 L1068.6 794.3 L1069.1 797.2 L1069.6 800.2 L1070.1 803.2 L1070.6 806.4 L1071.1 809.5 L1071.6 812.3 L1072.1 814.9 L1072.6 817.3 L1073.1 819.6 L1073.6 821.8 L1074.1 823.9 L1074.6 825.9 L1075.1 827.7 L1075.6 829.4 L1076.1 830.9 L1076.6 832.3 L1077.1 833.5 L1077.6 834.7 L1078.1 835.8 L1078.6 836.9 L1079.1 837.8 L1079.6 838.7 L1080.1 839.6 L1080.6 840.3 L1081.1 841.1 L1081.6 841.8 L1082.1 842.5 L1082.6 843.1 L1083.1 843.7 L1083.6 844.3 L1084.1 844.9 L1084.6 845.5 L1085.1 846 L1085.6 846.5 L1086.1 847 L1086.6 847.6 L1087.1 848.1 L1087.6 848.6 L1088.1 849.1 L1088.6 849.6 L1089.1 850 L1089.6 850.5 L1090.1 850.9 L1090.6 851.3 L1091.1 851.7 L1091.6 852.1 L1092.1 852.5 L1092.6 852.8 L1093.1 853 L1093.6 853.3 L1094.1 853.5 L1094.6 853.8 L1095.1 854 L1095.6 854.1 L1096.1 854.3 L1096.6 854.5 L1097.1 854.6 L1097.6 854.7 L1098.1 854.8 L1098.6 855 L1099.1 855.1 L1099.6 855.2 L1100.1 855.3 L1100.6 855.4 L1101.1 855.5 L1101.6 855.6 L1102.1 855.7 L1102.6 855.7 L1103.1 855.7 L1103.6 855.7 L1104.1 855.8 L1104.6 855.8 L1105.1 855.8 L1105.6 855.8 L1106.1 855.8 L1106.6 855.8 L1107.1 855.7 L1107.6 855.6 L1108.1 855.4 L1108.6 855.2 L1109.1 855 L1109.6 854.7 L1110.1 854.4 L1110.6 854 L1111.1 853.6 L1111.6 852.9 L1112.1 852 L1112.6 850.9 L1113.1 849.7 L1113.6 848.3 L1114.1 846.7 L1114.6 844.9 L1115.1 842.8 L1115.6 840.5 L1116.1 838.1 L1116.6 835.5 L1117.1 832.6 L1117.6 829.3 L1118.1 825.4 L1118.6 820.9 L1119.1 816 L1119.6 810.4 L1120.1 804.6 L1120.6 798.4 L1121.1 791.6 L1121.6 784.1 L1122.1 774.7 L1122.6 761.2 L1123.1 749.1 L1123.6 739.3 L1124.1 727.7 L1124.6 714.4 L1125.1 701.8 L1125.6 689.5 L1126.1 677.8 L1126.6 667 L1127.1 657.5 L1127.6 648.9 L1128.1 640.9 L1128.6 633 L1129.1 625 L1129.6 616.4 L1130.1 607.6 L1130.6 598.8 L1131.1 590.5 L1131.6 583 L1132.1 576.6 L1132.6 570.8 L1133.1 565.8 L1133.6 561.5 L1134.1 557.9 L1134.6 557.5 L1135.1 560.6 L1135.6 565 L1136.1 569.8 L1136.6 575.5 L1137.1 581.7 L1137.6 588 L1138.1 594.6 L1138.6 601.6 L1139.1 609 L1139.6 616.7 L1140.1 625 L1140.6 634.3 L1141.1 644.4 L1141.6 654.8 L1142.1 665 L1142.6 675.1 L1143.1 685.4 L1143.6 695.5 L1144.1 704.9 L1144.6 713.4 L1145.1 721.3 L1145.6 728.9 L1146.1 736.6 L1146.6 744.6 L1147.1 752.1 L1147.6 758.2 L1148.1 763.6 L1148.6 768.6 L1149.1 773.3 L1149.6 777.8 L1150.1 782 L1150.6 786 L1151.1 789.7 L1151.6 793.2 L1152.1 796.5 L1152.6 799.7 L1153.1 802.7 L1153.6 805.6 L1154.1 808.4 L1154.6 811 L1155.1 813.6 L1155.6 816 L1156.1 818.4 L1156.6 820.6 L1157.1 822.7 L1157.6 824.7 L1158.1 826.5 L1158.6 828.3 L1159.1 830 L1159.6 831.6 L1160.1 833.1 L1160.6 834.6 L1161.1 835.9 L1161.6 837.1 L1162.1 838.2 L1162.6 839.3 L1163.1 840.4 L1163.6 841.3 L1164.1 842.2 L1164.6 843.1 L1165.1 843.9 L1165.6 844.6 L1166.1 845.3 L1166.6 846 L1167.1 846.7 L1167.6 847.3 L1168.1 848 L1168.6 848.6 L1169.1 849.2 L1169.6 849.8 L1170.1 850.3 L1170.6 850.9 L1171.1 851.4 L1171.6 851.9 L1172.1 852.4 L1172.6 852.8 L1173.1 853.3 L1173.6 853.7 L1174.1 854.1 L1174.6 854.5 L1175.1 854.9 L1175.6 855.2 L1176.1 855.5 L1176.6 855.8 L1177.1 856.1 L1177.6 856.4 L1178.1 856.6 L1178.6 856.9 L1179.1 857.1 L1179.6 857.3 L1180.1 857.6 L1180.6 857.8 L1181.1 858.1 L1181.6 858.3 L1182.1 858.5 L1182.6 858.7 L1183.1 858.8 L1183.6 858.9 L1184.1 858.9 L1184.6 858.8 L1185.1 858.7 L1185.6 858.6 L1186.1 858.4 L1186.6 858.2 L1187.1 858 L1187.6 857.7 L1188.1 857.6 L1188.6 857.4 L1189.1 857.2 L1189.6 856.9 L1190.1 856.7 L1190.6 856.5 L1191.1 856.3 L1191.6 856.1 L1192.1 855.9 L1192.6 855.8 L1193.1 855.7 L1193.6 855.6 L1194.1 855.5 L1194.6 855.4 L1195.1 855.3 L1195.6 855.2 L1196.1 855.1 L1196.6 855.1 L1197.1 855 L1197.6 854.9 L1198.1 854.8 L1198.6 854.8 L1199.1 854.7 L1199.6 854.7 L1200.1 854.6 L1200.6 854.5 L1201.1 854.4 L1201.6 854.3 L1202.1 854.1 L1202.6 853.9 L1203.1 853.5 L1203.6 853 L1204.1 852.5 L1204.6 852 L1205.1 851.3 L1205.6 850.6 L1206.1 849.7 L1206.6 848.8 L1207.1 847.7 L1207.6 846.5 L1208.1 845.1 L1208.6 843.6 L1209.1 842 L1209.6 840.1 L1210.1 838 L1210.6 835.8 L1211.1 833.1 L1211.6 830.2 L1212.1 827 L1212.6 823.6 L1213.1 819.9 L1213.6 815.9 L1214.1 811.6 L1214.6 807 L1215.1 802 L1215.6 796.6 L1216.1 790.4 L1216.6 782.1 L1217.1 772 L1217.6 762.3 L1218.1 752.2 L1218.6 740.5 L1219.1 727.1 L1219.6 710.5 L1220.1 693.8 L1220.6 681.5 L1221.1 671.8 L1221.6 663.4 L1222.1 655.9 L1222.6 648.6 L1223.1 641.2 L1223.6 633.9 L1224.1 626.8 L1224.6 619.9 L1225.1 613.3 L1225.6 607.2 L1226.1 601.4 L1226.6 595.9 L1227.1 590.9 L1227.6 586.7 L1228.1 582.8 L1228.6 580.2 L1229.1 580.9 L1229.6 584.4 L1230.1 588.2 L1230.6 592.2 L1231.1 596.6 L1231.6 601.5 L1232.1 606.7 L1232.6 612.4 L1233.1 618.4 L1233.6 624.8 L1234.1 631.5 L1234.6 638.5 L1235.1 645.7 L1235.6 653.3 L1236.1 661.5 L1236.6 670 L1237.1 678.7 L1237.6 687.5 L1238.1 695.7 L1238.6 703.7 L1239.1 713 L1239.6 724.7 L1240.1 746.5 L1240.6 758 L1241.1 764.1 L1241.6 768.6 L1242.1 772 L1242.6 774.7 L1243.1 777.4 L1243.6 779.9 L1244.1 782.1 L1244.6 784 L1245.1 785.8 L1245.6 787.5 L1246.1 789.1 L1246.6 790.5 L1247.1 791.8 L1247.6 793.1 L1248.1 794.6 L1248.6 796.3 L1249.1 798.3 L1249.6 800.5 L1250.1 802.7 L1250.6 805.1 L1251.1 807.4 L1251.6 810 L1252.1 812.6 L1252.6 815.1 L1253.1 817.5 L1253.6 819.7 L1254.1 821.8 L1254.6 823.9 L1255.1 825.9 L1255.6 827.9 L1256.1 829.9 L1256.6 831.9 L1257.1 833.8 L1257.6 835.6 L1258.1 837.2 L1258.6 838.6 L1259.1 839.9 L1259.6 841.2 L1260.1 842.4 L1260.6 843.6 L1261.1 844.7 L1261.6 845.7 L1262.1 846.7 L1262.6 847.7 L1263.1 848.6 L1263.6 849.5 L1264.1 850.3 L1264.6 851.1 L1265.1 851.8 L1265.6 852.5 L1266.1 853.2 L1266.6 853.8 L1267.1 854.4 L1267.6 855 L1268.1 855.5 L1268.6 856 L1269.1 856.5 L1269.6 857 L1270.1 857.5 L1270.6 857.9 L1271.1 858.3 L1271.6 858.7 L1272.1 859 L1272.6 859.4 L1273.1 859.7 L1273.6 860 L1274.1 860.2 L1274.6 860.5 L1275.1 860.7 L1275.6 861 L1276.1 861.2 L1276.6 861.4 L1277.1 861.6 L1277.6 861.7 L1278.1 861.9 L1278.6 862.1 L1279.1 862.3 L1279.6 862.4 L1280.1 862.6 L1280.6 862.7 L1281.1 862.8 L1281.6 862.9 L1282.1 863 L1282.6 863 L1283.1 863 L1283.6 863 L1284.1 863 L1284.6 863 L1285.1 863 L1285.6 863 L1286.1 863 L1286.6 863 L1287.1 863 L1287.6 863 L1288.1 862.9 L1288.6 862.9 L1289.1 862.9 L1289.6 862.9 L1290.1 862.9 L1290.6 862.9 L1291.1 862.9 L1291.6 862.8 L1292.1 862.8 L1292.6 862.8 L1293.1 862.8 L1293.6 862.7 L1294.1 862.7 L1294.6 862.6 L1295.1 862.6 L1295.6 862.6 L1296.1 862.5 L1296.6 862.5 L1297.1 862.4 L1297.6 862.4 L1298.1 862.3 L1298.6 862.2 L1299.1 862.1 L1299.6 862 L1300.1 861.9 L1300.6 861.8 L1301.1 861.7 L1301.6 861.6 L1302.1 861.5 L1302.6 861.4 L1303.1 861.3 L1303.6 861.2 L1304.1 861.1 L1304.6 861 L1305.1 860.9 L1305.6 860.8 L1306.1 860.7 L1306.6 860.6 L1307.1 860.6 L1307.6 860.5 L1308.1 860.4 L1308.6 860.4 L1309.1 860.4 L1309.6 860.4 L1310.1 860.5 L1310.6 860.6 L1311.1 860.8 L1311.6 861 L1312.1 861.2 L1312.6 861.4 L1313.1 861.6 L1313.6 861.8 L1314.1 862 L1314.6 862.2 L1315.1 862.4 L1315.6 862.6 L1316.1 862.8 L1316.6 862.9 L1317.1 863.1 L1317.6 863.2 L1318.1 863.3 L1318.6 863.4 L1319.1 863.4 L1319.6 863.4 L1320.1 863.4 L1320.6 863.4 L1321.1 863.4 L1321.6 863.4 L1322.1 863.4 L1322.6 863.4 L1323.1 863.4 L1323.6 863.4 L1324.1 863.4 L1324.6 863.3 L1325.1 863.3 L1325.6 863.2 L1326.1 863.1 L1326.6 862.9 L1327.1 862.8 L1327.6 862.6 L1328.1 862.4 L1328.6 862.2 L1329.1 861.8 L1329.6 861.3 L1330.1 860.7 L1330.6 860 L1331.1 859.4 L1331.6 858.7 L1332.1 857.9 L1332.6 857.1 L1333.1 856.2 L1333.6 855.2 L1334.1 854.1 L1334.6 852.9 L1335.1 851.5 L1335.6 849.8 L1336.1 848 L1336.6 846.2 L1337.1 844.4 L1337.6 842.4 L1338.1 840.4 L1338.6 838.3 L1339.1 836.2 L1339.6 834.2 L1340.1 832 L1340.6 829.9 L1341.1 827.9 L1341.6 826 L1342.1 824.1 L1342.6 822 L1343.1 820.2 L1343.6 818.8 L1344.1 818.3 L1344.6 818.9 L1345.1 820.3 L1345.6 822.3 L1346.1 824.3 L1346.6 826.1 L1347.1 827.9 L1347.6 829.9 L1348.1 831.9 L1348.6 833.9 L1349.1 836 L1349.6 838.2 L1350.1 840.3 L1350.6 842.3 L1351.1 844.4 L1351.6 846.4 L1352.1 848.2 L1352.6 849.6 L1353.1 850.8 L1353.6 851.9 L1354.1 852.9 L1354.6 853.8 L1355.1 854.7 L1355.6 855.4 L1356.1 856.1 L1356.6 856.8 L1357.1 857.4 L1357.6 857.9 L1358.1 858.4 L1358.6 858.8 L1359.1 859.2 L1359.6 859.6 L1360.1 860 L1360.6 860.3 L1361.1 860.6 L1361.6 860.9 L1362.1 861.1 L1362.6 861.4 L1363.1 861.6 L1363.6 861.8 L1364.1 861.9 L1364.6 862.1 L1365.1 862.3 L1365.6 862.4 L1366.1 862.6 L1366.6 862.8 L1367.1 862.9 L1367.6 863.1 L1368.1 863.2 L1368.6 863.3 L1369.1 863.5 L1369.6 863.6 L1370.1 863.7 L1370.6 863.8 L1371.1 863.8 L1371.6 863.9 L1372.1 863.9 L1372.6 864 L1373.1 864 L1373.6 864.1 L1374.1 864.1 L1374.6 864.2 L1375.1 864.2 L1375.6 864.2 L1376.1 864.2 L1376.6 864.3 L1377.1 864.3 L1377.6 864.3 L1378.1 864.3 L1378.6 864.4 L1379.1 864.4 L1379.6 864.4 L1380.1 864.4 L1380.6 864.5 L1381.1 864.5 L1381.6 864.5 L1382.1 864.5 L1382.6 864.6 L1383.1 864.6 L1383.6 864.6 L1384.1 864.6 L1384.6 864.6 L1385.1 864.6 L1385.6 864.7 L1386.1 864.7 L1386.6 864.7 L1387.1 864.7 L1387.6 864.7 L1388.1 864.7 L1388.6 864.7 L1389.1 864.7 L1389.6 864.7 L1390.1 864.7 L1390.6 864.7 L1391.1 864.7 L1391.6 864.7 L1392.1 864.7 L1392.6 864.7 L1393.1 864.7 L1393.6 864.7 L1394.1 864.7 L1394.6 864.7 L1395.1 864.7 L1395.6 864.7 L1396.1 864.7 L1396.6 864.7 L1397.1 864.7 L1397.6 864.7 L1398.1 864.7 L1398.6 864.7 L1399.1 864.7 L1399.6 864.7 L1400.1 864.7 L1400.6 864.7 L1401.1 864.7 L1401.6 864.7 L1402.1 864.7 L1402.6 864.7 L1403.1 864.7 L1403.6 864.7 L1404.1 864.7 L1404.6 864.7 L1405.1 864.7 L1405.6 864.7 L1406.1 864.7 L1406.6 864.7 L1407.1 864.7 L1407.6 864.7 L1408.1 864.7 L1408.6 864.7 L1409.1 864.7 L1409.6 864.7 L1410.1 864.7 L1410.6 864.7 L1411.1 864.7 L1411.6 864.7 L1412.1 864.7 L1412.6 864.7 L1413.1 864.7 L1413.6 864.7 L1414.1 864.7 L1414.6 864.7 L1415.1 864.7 L1415.6 864.7 L1416.1 864.7 L1416.6 864.7 L1417.1 864.7 L1417.6 864.7 L1418.1 864.7 L1418.6 864.7 L1419.1 864.7 L1419.6 864.7 L1420.1 864.7 L1420.6 864.7 L1421.1 864.7 L1421.6 864.7 L1422.1 864.7 L1422.6 864.7 L1423.1 864.7 L1423.6 864.7 L1424.1 864.7 L1424.6 864.7 L1425.1 864.7 L1425.6 864.7 L1426.1 864.7 L1426.6 864.7 L1427.1 864.7 L1427.6 864.7 L1428.1 864.7 L1428.6 864.7 L1429.1 864.7 L1429.6 864.7 L1430.1 864.7 L1430.6 864.7 L1431.1 864.7 L1431.6 864.7 L1432.1 864.7 L1432.6 864.7 L1433.1 864.7 L1433.6 864.7 L1434.1 864.7 L1434.6 864.7 L1435.1 864.7 L1435.6 864.7 L1436.1 864.7 L1436.6 864.7 L1437.1 864.7 L1437.6 864.7 L1438.1 864.7 L1438.6 864.7 L1439.1 864.7 L1439.6 864.7 L1440.1 864.7 L1440.6 864.7 L1441.1 864.7 L1441.6 864.7 L1442.1 864.7 L1442.6 864.7 L1443.1 864.7 L1443.6 864.7 L1444.1 864.7 L1444.6 864.7 L1445.1 864.7 L1445.6 864.7 L1446.1 864.7 L1446.6 864.7 L1447.1 864.7 L1447.6 864.7 L1448.1 864.7 L1448.6 864.7 L1449.1 864.7 L1449.6 864.7 L1450.1 864.7 L1450.6 864.7 L1451.1 864.7 L1451.6 864.7 L1452.1 864.7 L1452.6 864.7 L1453.1 864.7 L1453.6 864.7 L1454.1 864.7 L1454.6 864.7 L1455.1 864.7 L1455.6 864.7 L1456.1 864.7 L1456.6 864.7 L1457.1 864.7 L1457.6 864.7 L1458.1 864.7 L1458.6 864.7 L1459.1 864.7 L1459.6 864.7 L1460.1 864.7 L1460.6 864.7 L1461.1 864.7 L1461.6 864.7 L1462.1 864.7 L1462.6 864.7 L1463.1 864.7 L1463.6 864.7 L1464.1 864.7 L1464.6 864.7 L1465.1 864.7 L1465.6 864.7" fill="none" stroke="#a3a3f2" stroke-width="2.1" stroke-linejoin="round" stroke-linecap="round"/>
<line x1="864.8" y1="519" x2="864.8" y2="880.4" stroke="#e2e2e2" stroke-width="1.5"/>
<line x1="864.1" y1="880.4" x2="1466" y2="880.4" stroke="#cacaca" stroke-width="1.9"/>
<text x="858.7" y="873" font-size="23.2" fill="#0c0c0c" stroke="#0c0c0c" stroke-width="0.8" text-anchor="end" textLength="14.2" lengthAdjust="spacingAndGlyphs">0</text>
<text x="858.7" y="816.6" font-size="23.2" fill="#0c0c0c" stroke="#0c0c0c" stroke-width="0.8" text-anchor="end" textLength="41" lengthAdjust="spacingAndGlyphs">100</text>
<text x="858.7" y="760.5" font-size="23.2" fill="#0c0c0c" stroke="#0c0c0c" stroke-width="0.8" text-anchor="end" textLength="41" lengthAdjust="spacingAndGlyphs">200</text>
<text x="858.7" y="704.9" font-size="23.2" fill="#0c0c0c" stroke="#0c0c0c" stroke-width="0.8" text-anchor="end" textLength="41" lengthAdjust="spacingAndGlyphs">300</text>
<text x="858.7" y="647.2" font-size="23.2" fill="#0c0c0c" stroke="#0c0c0c" stroke-width="0.8" text-anchor="end" textLength="41" lengthAdjust="spacingAndGlyphs">400</text>
<text x="858.7" y="591.1" font-size="23.2" fill="#0c0c0c" stroke="#0c0c0c" stroke-width="0.8" text-anchor="end" textLength="41" lengthAdjust="spacingAndGlyphs">500</text>
<text x="858.7" y="534.9" font-size="23.2" fill="#0c0c0c" stroke="#0c0c0c" stroke-width="0.8" text-anchor="end" textLength="41" lengthAdjust="spacingAndGlyphs">600</text>
<text x="908.7" y="905.7" font-size="23" fill="#0c0c0c" stroke="#0c0c0c" stroke-width="0.8" text-anchor="middle" textLength="34.9" lengthAdjust="spacingAndGlyphs">5.0</text>
<text x="995.1" y="905.7" font-size="23" fill="#0c0c0c" stroke="#0c0c0c" stroke-width="0.8" text-anchor="middle" textLength="34.9" lengthAdjust="spacingAndGlyphs">5.2</text>
<text x="1080.8" y="905.7" font-size="23" fill="#0c0c0c" stroke="#0c0c0c" stroke-width="0.8" text-anchor="middle" textLength="34.9" lengthAdjust="spacingAndGlyphs">5.4</text>
<text x="1168.3" y="905.7" font-size="23" fill="#0c0c0c" stroke="#0c0c0c" stroke-width="0.8" text-anchor="middle" textLength="34.9" lengthAdjust="spacingAndGlyphs">5.6</text>
<text x="1252.6" y="905.7" font-size="23" fill="#0c0c0c" stroke="#0c0c0c" stroke-width="0.8" text-anchor="middle" textLength="34.9" lengthAdjust="spacingAndGlyphs">5.8</text>
<text x="1339.3" y="905.7" font-size="23" fill="#0c0c0c" stroke="#0c0c0c" stroke-width="0.8" text-anchor="middle" textLength="34.9" lengthAdjust="spacingAndGlyphs">6.0</text>
<text x="1424.8" y="905.7" font-size="23" fill="#0c0c0c" stroke="#0c0c0c" stroke-width="0.8" text-anchor="middle" textLength="34.9" lengthAdjust="spacingAndGlyphs">6.2</text>
<text x="1156.7" y="938.9" font-size="22.9" fill="#0c0c0c" stroke="#0c0c0c" stroke-width="0.8" textLength="20" lengthAdjust="spacingAndGlyphs">pI</text>
<text transform="translate(799.4 702.4) rotate(-90) scale(1 1.03)" font-size="23.6" fill="#0c0c0c" stroke="#0c0c0c" stroke-width="0.7" text-anchor="middle" textLength="215.7" lengthAdjust="spacingAndGlyphs">Chemiluminescence</text>
<text x="755.7" y="523.1" font-size="32.5" fill="#000" stroke="#000" stroke-width="0.3" font-weight="bold">D</text>
<text x="882.3" y="547.7" font-size="23.6" fill="#0c0c0c" stroke="#0c0c0c" stroke-width="0.8" textLength="58.4" lengthAdjust="spacingAndGlyphs">+ Ber</text>
<text x="1121.1" y="546.8" font-size="19.4" fill="#303030" stroke="#303030" stroke-width="0.5" textLength="36" lengthAdjust="spacingAndGlyphs">5.51</text>
<text x="1216" y="571.2" font-size="19.4" fill="#303030" stroke="#303030" stroke-width="0.5" textLength="36" lengthAdjust="spacingAndGlyphs">5.74</text>
<text x="1051.5" y="769.3" font-size="19.4" fill="#303030" stroke="#303030" stroke-width="0.5" textLength="36" lengthAdjust="spacingAndGlyphs">5.36</text>
<text x="1330.5" y="810.1" font-size="19.4" fill="#303030" stroke="#303030" stroke-width="0.5" textLength="36" lengthAdjust="spacingAndGlyphs">6.02</text>
</g>
</g>
</svg>
</body>
</html>
